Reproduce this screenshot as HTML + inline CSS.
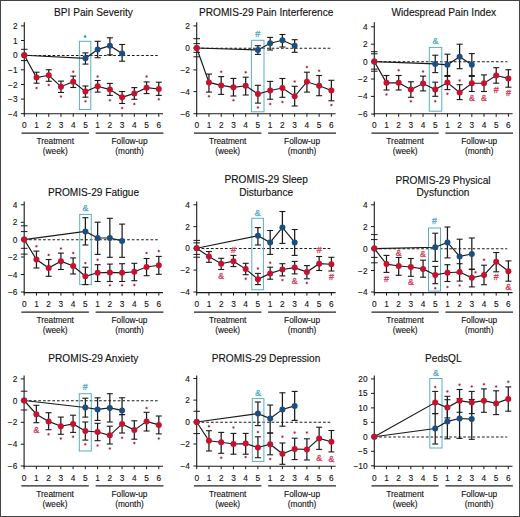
<!DOCTYPE html>
<html><head><meta charset="utf-8"><style>
html,body{margin:0;padding:0;background:#fff;}
.wrap{position:relative;width:520px;height:517px;overflow:hidden;}
svg{position:absolute;left:0;top:0;font-family:"Liberation Sans", sans-serif;}
text{stroke:#111;stroke-width:0.12px;}
.ann{stroke-width:0.3px}
</style></head><body><div class="wrap">
<svg width="520" height="517" viewBox="0 0 520 517">
<rect x="0" y="0" width="520" height="517" fill="#fff"/>
<text x="93.5" y="16.1" text-anchor="middle" font-size="10.15" fill="#111">BPI Pain Severity</text>
<g transform="translate(0,0)">
<line x1="24.5" y1="55.4" x2="157.7" y2="55.4" stroke="#1a1a1a" stroke-width="1.05" stroke-dasharray="2.7 1.97"/>
</g>
<rect x="79.4" y="41.3" width="11.4" height="68.2" fill="none" stroke="#5aaec4" stroke-width="1"/>
<circle cx="85.1" cy="36.6" r="1.25" fill="#3f8ca2"/>
<line x1="24.3" y1="22.3" x2="24.3" y2="114.3" stroke="#1a1a1a" stroke-width="1.1"/>
<line x1="23.8" y1="113.8" x2="163" y2="113.8" stroke="#1a1a1a" stroke-width="1.1"/>
<g transform="translate(0,0)">
<line x1="21" y1="25.9" x2="24.3" y2="25.9" stroke="#1a1a1a" stroke-width="1"/>
<text x="17.5" y="28.9" text-anchor="end" font-size="8.3" fill="#111">2</text>
<line x1="21" y1="40.5" x2="24.3" y2="40.5" stroke="#1a1a1a" stroke-width="1"/>
<text x="17.5" y="43.5" text-anchor="end" font-size="8.3" fill="#111">1</text>
<line x1="21" y1="55.2" x2="24.3" y2="55.2" stroke="#1a1a1a" stroke-width="1"/>
<text x="17.5" y="58.2" text-anchor="end" font-size="8.3" fill="#111">0</text>
<line x1="21" y1="69.8" x2="24.3" y2="69.8" stroke="#1a1a1a" stroke-width="1"/>
<text x="17.5" y="72.8" text-anchor="end" font-size="8.3" fill="#111">−1</text>
<line x1="21" y1="84.5" x2="24.3" y2="84.5" stroke="#1a1a1a" stroke-width="1"/>
<text x="17.5" y="87.5" text-anchor="end" font-size="8.3" fill="#111">−2</text>
<line x1="21" y1="99.1" x2="24.3" y2="99.1" stroke="#1a1a1a" stroke-width="1"/>
<text x="17.5" y="102.1" text-anchor="end" font-size="8.3" fill="#111">−3</text>
<line x1="21" y1="113.7" x2="24.3" y2="113.7" stroke="#1a1a1a" stroke-width="1"/>
<text x="17.5" y="116.7" text-anchor="end" font-size="8.3" fill="#111">−4</text>
</g>
<line x1="24.3" y1="113.8" x2="24.3" y2="116.8" stroke="#1a1a1a" stroke-width="1"/>
<text x="24.3" y="127.8" text-anchor="middle" font-size="8.3" fill="#111">0</text>
<line x1="36.53" y1="113.8" x2="36.53" y2="116.8" stroke="#1a1a1a" stroke-width="1"/>
<text x="36.53" y="127.8" text-anchor="middle" font-size="8.3" fill="#111">1</text>
<line x1="48.75" y1="113.8" x2="48.75" y2="116.8" stroke="#1a1a1a" stroke-width="1"/>
<text x="48.75" y="127.8" text-anchor="middle" font-size="8.3" fill="#111">2</text>
<line x1="60.98" y1="113.8" x2="60.98" y2="116.8" stroke="#1a1a1a" stroke-width="1"/>
<text x="60.98" y="127.8" text-anchor="middle" font-size="8.3" fill="#111">3</text>
<line x1="73.21" y1="113.8" x2="73.21" y2="116.8" stroke="#1a1a1a" stroke-width="1"/>
<text x="73.21" y="127.8" text-anchor="middle" font-size="8.3" fill="#111">4</text>
<line x1="85.44" y1="113.8" x2="85.44" y2="116.8" stroke="#1a1a1a" stroke-width="1"/>
<text x="85.44" y="127.8" text-anchor="middle" font-size="8.3" fill="#111">5</text>
<line x1="97.66" y1="113.8" x2="97.66" y2="116.8" stroke="#1a1a1a" stroke-width="1"/>
<text x="97.66" y="127.8" text-anchor="middle" font-size="8.3" fill="#111">1</text>
<line x1="109.89" y1="113.8" x2="109.89" y2="116.8" stroke="#1a1a1a" stroke-width="1"/>
<text x="109.89" y="127.8" text-anchor="middle" font-size="8.3" fill="#111">2</text>
<line x1="122.12" y1="113.8" x2="122.12" y2="116.8" stroke="#1a1a1a" stroke-width="1"/>
<text x="122.12" y="127.8" text-anchor="middle" font-size="8.3" fill="#111">3</text>
<line x1="134.34" y1="113.8" x2="134.34" y2="116.8" stroke="#1a1a1a" stroke-width="1"/>
<text x="134.34" y="127.8" text-anchor="middle" font-size="8.3" fill="#111">4</text>
<line x1="146.57" y1="113.8" x2="146.57" y2="116.8" stroke="#1a1a1a" stroke-width="1"/>
<text x="146.57" y="127.8" text-anchor="middle" font-size="8.3" fill="#111">5</text>
<line x1="158.8" y1="113.8" x2="158.8" y2="116.8" stroke="#1a1a1a" stroke-width="1"/>
<text x="158.8" y="127.8" text-anchor="middle" font-size="8.3" fill="#111">6</text>
<line x1="21.5" y1="133.1" x2="88.94" y2="133.1" stroke="#222" stroke-width="1.1"/>
<line x1="95.66" y1="133.1" x2="163.4" y2="133.1" stroke="#222" stroke-width="1.1"/>
<text x="55.22" y="144.3" text-anchor="middle" font-size="8.3" fill="#111">Treatment</text>
<text x="55.22" y="154.3" text-anchor="middle" font-size="8.3" fill="#111">(week)</text>
<text x="129.53" y="144.3" text-anchor="middle" font-size="8.3" fill="#111">Follow-up</text>
<text x="129.53" y="154.3" text-anchor="middle" font-size="8.3" fill="#111">(month)</text>
<g transform="translate(0,0)">
<line x1="21" y1="49.3" x2="27.6" y2="49.3" stroke="#1a1a1a" stroke-width="1"/>
<line x1="21" y1="60.6" x2="27.6" y2="60.6" stroke="#1a1a1a" stroke-width="1"/>
<polyline points="24.3,55.2 85.44,58.3 97.66,49.6 109.89,45.7 122.12,53.4" fill="none" stroke="#1a1a1a" stroke-width="1.15"/>
<polyline points="24.3,55.2 36.53,77.6 48.75,75.3 60.98,86.7 73.21,81.7 85.44,91.6 97.66,86.3 109.89,89.6 122.12,97.3 134.34,93.4 146.57,87.7 158.8,89" fill="none" stroke="#1a1a1a" stroke-width="1.15"/>
<line x1="85.44" y1="52.9" x2="85.44" y2="64.1" stroke="#1a1a1a" stroke-width="1.25"/>
<line x1="82.44" y1="52.9" x2="88.44" y2="52.9" stroke="#1a1a1a" stroke-width="1.1"/>
<line x1="82.44" y1="64.1" x2="88.44" y2="64.1" stroke="#1a1a1a" stroke-width="1.1"/>
<line x1="97.66" y1="41.3" x2="97.66" y2="57.7" stroke="#1a1a1a" stroke-width="1.25"/>
<line x1="94.66" y1="41.3" x2="100.66" y2="41.3" stroke="#1a1a1a" stroke-width="1.1"/>
<line x1="94.66" y1="57.7" x2="100.66" y2="57.7" stroke="#1a1a1a" stroke-width="1.1"/>
<line x1="109.89" y1="37.8" x2="109.89" y2="54.8" stroke="#1a1a1a" stroke-width="1.25"/>
<line x1="106.89" y1="37.8" x2="112.89" y2="37.8" stroke="#1a1a1a" stroke-width="1.1"/>
<line x1="106.89" y1="54.8" x2="112.89" y2="54.8" stroke="#1a1a1a" stroke-width="1.1"/>
<line x1="122.12" y1="44.5" x2="122.12" y2="61.2" stroke="#1a1a1a" stroke-width="1.25"/>
<line x1="119.12" y1="44.5" x2="125.12" y2="44.5" stroke="#1a1a1a" stroke-width="1.1"/>
<line x1="119.12" y1="61.2" x2="125.12" y2="61.2" stroke="#1a1a1a" stroke-width="1.1"/>
<line x1="36.53" y1="72.2" x2="36.53" y2="83.2" stroke="#1a1a1a" stroke-width="1.25"/>
<line x1="33.53" y1="72.2" x2="39.53" y2="72.2" stroke="#1a1a1a" stroke-width="1.1"/>
<line x1="33.53" y1="83.2" x2="39.53" y2="83.2" stroke="#1a1a1a" stroke-width="1.1"/>
<line x1="48.75" y1="69.7" x2="48.75" y2="81.3" stroke="#1a1a1a" stroke-width="1.25"/>
<line x1="45.75" y1="69.7" x2="51.75" y2="69.7" stroke="#1a1a1a" stroke-width="1.1"/>
<line x1="45.75" y1="81.3" x2="51.75" y2="81.3" stroke="#1a1a1a" stroke-width="1.1"/>
<line x1="60.98" y1="81.1" x2="60.98" y2="92.5" stroke="#1a1a1a" stroke-width="1.25"/>
<line x1="57.98" y1="81.1" x2="63.98" y2="81.1" stroke="#1a1a1a" stroke-width="1.1"/>
<line x1="57.98" y1="92.5" x2="63.98" y2="92.5" stroke="#1a1a1a" stroke-width="1.1"/>
<line x1="73.21" y1="76.1" x2="73.21" y2="87.5" stroke="#1a1a1a" stroke-width="1.25"/>
<line x1="70.21" y1="76.1" x2="76.21" y2="76.1" stroke="#1a1a1a" stroke-width="1.1"/>
<line x1="70.21" y1="87.5" x2="76.21" y2="87.5" stroke="#1a1a1a" stroke-width="1.1"/>
<line x1="85.44" y1="86" x2="85.44" y2="97.2" stroke="#1a1a1a" stroke-width="1.25"/>
<line x1="82.44" y1="86" x2="88.44" y2="86" stroke="#1a1a1a" stroke-width="1.1"/>
<line x1="82.44" y1="97.2" x2="88.44" y2="97.2" stroke="#1a1a1a" stroke-width="1.1"/>
<line x1="97.66" y1="80.5" x2="97.66" y2="92.1" stroke="#1a1a1a" stroke-width="1.25"/>
<line x1="94.66" y1="80.5" x2="100.66" y2="80.5" stroke="#1a1a1a" stroke-width="1.1"/>
<line x1="94.66" y1="92.1" x2="100.66" y2="92.1" stroke="#1a1a1a" stroke-width="1.1"/>
<line x1="109.89" y1="83.4" x2="109.89" y2="95.4" stroke="#1a1a1a" stroke-width="1.25"/>
<line x1="106.89" y1="83.4" x2="112.89" y2="83.4" stroke="#1a1a1a" stroke-width="1.1"/>
<line x1="106.89" y1="95.4" x2="112.89" y2="95.4" stroke="#1a1a1a" stroke-width="1.1"/>
<line x1="122.12" y1="91.5" x2="122.12" y2="103.5" stroke="#1a1a1a" stroke-width="1.25"/>
<line x1="119.12" y1="91.5" x2="125.12" y2="91.5" stroke="#1a1a1a" stroke-width="1.1"/>
<line x1="119.12" y1="103.5" x2="125.12" y2="103.5" stroke="#1a1a1a" stroke-width="1.1"/>
<line x1="134.34" y1="87.6" x2="134.34" y2="99.3" stroke="#1a1a1a" stroke-width="1.25"/>
<line x1="131.34" y1="87.6" x2="137.34" y2="87.6" stroke="#1a1a1a" stroke-width="1.1"/>
<line x1="131.34" y1="99.3" x2="137.34" y2="99.3" stroke="#1a1a1a" stroke-width="1.1"/>
<line x1="146.57" y1="81.9" x2="146.57" y2="93.6" stroke="#1a1a1a" stroke-width="1.25"/>
<line x1="143.57" y1="81.9" x2="149.57" y2="81.9" stroke="#1a1a1a" stroke-width="1.1"/>
<line x1="143.57" y1="93.6" x2="149.57" y2="93.6" stroke="#1a1a1a" stroke-width="1.1"/>
<line x1="158.8" y1="82.2" x2="158.8" y2="95.4" stroke="#1a1a1a" stroke-width="1.25"/>
<line x1="155.8" y1="82.2" x2="161.8" y2="82.2" stroke="#1a1a1a" stroke-width="1.1"/>
<line x1="155.8" y1="95.4" x2="161.8" y2="95.4" stroke="#1a1a1a" stroke-width="1.1"/>
<circle cx="24.3" cy="55.2" r="3.0" fill="#1a4f82"/>
<circle cx="85.44" cy="58.3" r="3.0" fill="#1a4f82"/>
<circle cx="97.66" cy="49.6" r="3.0" fill="#1a4f82"/>
<circle cx="109.89" cy="45.7" r="3.0" fill="#1a4f82"/>
<circle cx="122.12" cy="53.4" r="3.0" fill="#1a4f82"/>
<circle cx="24.3" cy="55.2" r="3.0" fill="#c8102f"/>
<circle cx="36.53" cy="77.6" r="3.0" fill="#c8102f"/>
<circle cx="48.75" cy="75.3" r="3.0" fill="#c8102f"/>
<circle cx="60.98" cy="86.7" r="3.0" fill="#c8102f"/>
<circle cx="73.21" cy="81.7" r="3.0" fill="#c8102f"/>
<circle cx="85.44" cy="91.6" r="3.0" fill="#c8102f"/>
<circle cx="97.66" cy="86.3" r="3.0" fill="#c8102f"/>
<circle cx="109.89" cy="89.6" r="3.0" fill="#c8102f"/>
<circle cx="122.12" cy="97.3" r="3.0" fill="#c8102f"/>
<circle cx="134.34" cy="93.4" r="3.0" fill="#c8102f"/>
<circle cx="146.57" cy="87.7" r="3.0" fill="#c8102f"/>
<circle cx="158.8" cy="89" r="3.0" fill="#c8102f"/>
<circle cx="36.53" cy="88" r="1.7" fill="#f3c6d0" opacity="0.8"/>
<circle cx="36.53" cy="88" r="1.0" fill="#9a2a48"/>
<circle cx="48.75" cy="85" r="1.7" fill="#f3c6d0" opacity="0.8"/>
<circle cx="48.75" cy="85" r="1.0" fill="#9a2a48"/>
<circle cx="60.98" cy="96.4" r="1.7" fill="#f3c6d0" opacity="0.8"/>
<circle cx="60.98" cy="96.4" r="1.0" fill="#9a2a48"/>
<circle cx="73.21" cy="71.8" r="1.7" fill="#f3c6d0" opacity="0.8"/>
<circle cx="73.21" cy="71.8" r="1.0" fill="#9a2a48"/>
<circle cx="85.44" cy="101.2" r="1.7" fill="#f3c6d0" opacity="0.8"/>
<circle cx="85.44" cy="101.2" r="1.0" fill="#9a2a48"/>
<circle cx="97.66" cy="76.4" r="1.7" fill="#f3c6d0" opacity="0.8"/>
<circle cx="97.66" cy="76.4" r="1.0" fill="#9a2a48"/>
<circle cx="109.89" cy="100.2" r="1.7" fill="#f3c6d0" opacity="0.8"/>
<circle cx="109.89" cy="100.2" r="1.0" fill="#9a2a48"/>
<circle cx="122.12" cy="108" r="1.7" fill="#f3c6d0" opacity="0.8"/>
<circle cx="122.12" cy="108" r="1.0" fill="#9a2a48"/>
<circle cx="134.34" cy="104" r="1.7" fill="#f3c6d0" opacity="0.8"/>
<circle cx="134.34" cy="104" r="1.0" fill="#9a2a48"/>
<circle cx="146.57" cy="76.4" r="1.7" fill="#f3c6d0" opacity="0.8"/>
<circle cx="146.57" cy="76.4" r="1.0" fill="#9a2a48"/>
<circle cx="158.8" cy="99.3" r="1.7" fill="#f3c6d0" opacity="0.8"/>
<circle cx="158.8" cy="99.3" r="1.0" fill="#9a2a48"/>
</g>
<text x="266.2" y="16.1" text-anchor="middle" font-size="10.15" fill="#111">PROMIS-29 Pain Interference</text>
<g transform="translate(0,0)">
<line x1="196.9" y1="48.2" x2="330.29" y2="48.2" stroke="#1a1a1a" stroke-width="1.05" stroke-dasharray="2.7 1.97"/>
</g>
<rect x="251.4" y="40.3" width="12.6" height="71.5" fill="none" stroke="#5aaec4" stroke-width="1"/>
<text x="257.7" y="36.5" text-anchor="middle" font-size="8.8" class="ann" fill="#5aaec4" style="stroke:#5aaec4">#</text>
<line x1="196.7" y1="22.3" x2="196.7" y2="114.3" stroke="#1a1a1a" stroke-width="1.1"/>
<line x1="196.2" y1="113.8" x2="335.59" y2="113.8" stroke="#1a1a1a" stroke-width="1.1"/>
<g transform="translate(0,0)">
<line x1="193.4" y1="25.9" x2="196.7" y2="25.9" stroke="#1a1a1a" stroke-width="1"/>
<text x="189.9" y="28.9" text-anchor="end" font-size="8.3" fill="#111">2</text>
<line x1="193.4" y1="48" x2="196.7" y2="48" stroke="#1a1a1a" stroke-width="1"/>
<text x="189.9" y="51" text-anchor="end" font-size="8.3" fill="#111">0</text>
<line x1="193.4" y1="69.9" x2="196.7" y2="69.9" stroke="#1a1a1a" stroke-width="1"/>
<text x="189.9" y="72.9" text-anchor="end" font-size="8.3" fill="#111">−2</text>
<line x1="193.4" y1="91.6" x2="196.7" y2="91.6" stroke="#1a1a1a" stroke-width="1"/>
<text x="189.9" y="94.6" text-anchor="end" font-size="8.3" fill="#111">−4</text>
<line x1="193.4" y1="113.7" x2="196.7" y2="113.7" stroke="#1a1a1a" stroke-width="1"/>
<text x="189.9" y="116.7" text-anchor="end" font-size="8.3" fill="#111">−6</text>
</g>
<line x1="196.7" y1="113.8" x2="196.7" y2="116.8" stroke="#1a1a1a" stroke-width="1"/>
<text x="196.7" y="127.8" text-anchor="middle" font-size="8.3" fill="#111">0</text>
<line x1="208.94" y1="113.8" x2="208.94" y2="116.8" stroke="#1a1a1a" stroke-width="1"/>
<text x="208.94" y="127.8" text-anchor="middle" font-size="8.3" fill="#111">1</text>
<line x1="221.19" y1="113.8" x2="221.19" y2="116.8" stroke="#1a1a1a" stroke-width="1"/>
<text x="221.19" y="127.8" text-anchor="middle" font-size="8.3" fill="#111">2</text>
<line x1="233.44" y1="113.8" x2="233.44" y2="116.8" stroke="#1a1a1a" stroke-width="1"/>
<text x="233.44" y="127.8" text-anchor="middle" font-size="8.3" fill="#111">3</text>
<line x1="245.68" y1="113.8" x2="245.68" y2="116.8" stroke="#1a1a1a" stroke-width="1"/>
<text x="245.68" y="127.8" text-anchor="middle" font-size="8.3" fill="#111">4</text>
<line x1="257.92" y1="113.8" x2="257.92" y2="116.8" stroke="#1a1a1a" stroke-width="1"/>
<text x="257.92" y="127.8" text-anchor="middle" font-size="8.3" fill="#111">5</text>
<line x1="270.17" y1="113.8" x2="270.17" y2="116.8" stroke="#1a1a1a" stroke-width="1"/>
<text x="270.17" y="127.8" text-anchor="middle" font-size="8.3" fill="#111">1</text>
<line x1="282.41" y1="113.8" x2="282.41" y2="116.8" stroke="#1a1a1a" stroke-width="1"/>
<text x="282.41" y="127.8" text-anchor="middle" font-size="8.3" fill="#111">2</text>
<line x1="294.66" y1="113.8" x2="294.66" y2="116.8" stroke="#1a1a1a" stroke-width="1"/>
<text x="294.66" y="127.8" text-anchor="middle" font-size="8.3" fill="#111">3</text>
<line x1="306.9" y1="113.8" x2="306.9" y2="116.8" stroke="#1a1a1a" stroke-width="1"/>
<text x="306.9" y="127.8" text-anchor="middle" font-size="8.3" fill="#111">4</text>
<line x1="319.15" y1="113.8" x2="319.15" y2="116.8" stroke="#1a1a1a" stroke-width="1"/>
<text x="319.15" y="127.8" text-anchor="middle" font-size="8.3" fill="#111">5</text>
<line x1="331.39" y1="113.8" x2="331.39" y2="116.8" stroke="#1a1a1a" stroke-width="1"/>
<text x="331.39" y="127.8" text-anchor="middle" font-size="8.3" fill="#111">6</text>
<line x1="193.9" y1="133.1" x2="261.42" y2="133.1" stroke="#222" stroke-width="1.1"/>
<line x1="268.17" y1="133.1" x2="336" y2="133.1" stroke="#222" stroke-width="1.1"/>
<text x="227.66" y="144.3" text-anchor="middle" font-size="8.3" fill="#111">Treatment</text>
<text x="227.66" y="154.3" text-anchor="middle" font-size="8.3" fill="#111">(week)</text>
<text x="302.08" y="144.3" text-anchor="middle" font-size="8.3" fill="#111">Follow-up</text>
<text x="302.08" y="154.3" text-anchor="middle" font-size="8.3" fill="#111">(month)</text>
<g transform="translate(0,0)">
<line x1="193.4" y1="38.7" x2="200" y2="38.7" stroke="#1a1a1a" stroke-width="1"/>
<line x1="193.4" y1="43.6" x2="200" y2="43.6" stroke="#1a1a1a" stroke-width="1"/>
<line x1="193.4" y1="52.3" x2="200" y2="52.3" stroke="#1a1a1a" stroke-width="1"/>
<line x1="193.4" y1="56.8" x2="200" y2="56.8" stroke="#1a1a1a" stroke-width="1"/>
<polyline points="196.7,48 257.92,50 270.17,43.2 282.41,40.3 294.66,45.7" fill="none" stroke="#1a1a1a" stroke-width="1.15"/>
<polyline points="196.7,48 208.94,82.4 221.19,85.4 233.44,87.3 245.68,85.8 257.92,94.1 270.17,90.5 282.41,88 294.66,96.3 306.9,81.8 319.15,85.7 331.39,90.5" fill="none" stroke="#1a1a1a" stroke-width="1.15"/>
<line x1="257.92" y1="45.7" x2="257.92" y2="54.4" stroke="#1a1a1a" stroke-width="1.25"/>
<line x1="254.92" y1="45.7" x2="260.92" y2="45.7" stroke="#1a1a1a" stroke-width="1.1"/>
<line x1="254.92" y1="54.4" x2="260.92" y2="54.4" stroke="#1a1a1a" stroke-width="1.1"/>
<line x1="270.17" y1="37.4" x2="270.17" y2="50" stroke="#1a1a1a" stroke-width="1.25"/>
<line x1="267.17" y1="37.4" x2="273.17" y2="37.4" stroke="#1a1a1a" stroke-width="1.1"/>
<line x1="267.17" y1="50" x2="273.17" y2="50" stroke="#1a1a1a" stroke-width="1.1"/>
<line x1="282.41" y1="34.5" x2="282.41" y2="47" stroke="#1a1a1a" stroke-width="1.25"/>
<line x1="279.41" y1="34.5" x2="285.41" y2="34.5" stroke="#1a1a1a" stroke-width="1.1"/>
<line x1="279.41" y1="47" x2="285.41" y2="47" stroke="#1a1a1a" stroke-width="1.1"/>
<line x1="294.66" y1="39.7" x2="294.66" y2="52.3" stroke="#1a1a1a" stroke-width="1.25"/>
<line x1="291.66" y1="39.7" x2="297.66" y2="39.7" stroke="#1a1a1a" stroke-width="1.1"/>
<line x1="291.66" y1="52.3" x2="297.66" y2="52.3" stroke="#1a1a1a" stroke-width="1.1"/>
<line x1="208.94" y1="74.1" x2="208.94" y2="92.1" stroke="#1a1a1a" stroke-width="1.25"/>
<line x1="205.94" y1="74.1" x2="211.94" y2="74.1" stroke="#1a1a1a" stroke-width="1.1"/>
<line x1="205.94" y1="92.1" x2="211.94" y2="92.1" stroke="#1a1a1a" stroke-width="1.1"/>
<line x1="221.19" y1="76.6" x2="221.19" y2="94.4" stroke="#1a1a1a" stroke-width="1.25"/>
<line x1="218.19" y1="76.6" x2="224.19" y2="76.6" stroke="#1a1a1a" stroke-width="1.1"/>
<line x1="218.19" y1="94.4" x2="224.19" y2="94.4" stroke="#1a1a1a" stroke-width="1.1"/>
<line x1="233.44" y1="78.4" x2="233.44" y2="96" stroke="#1a1a1a" stroke-width="1.25"/>
<line x1="230.44" y1="78.4" x2="236.44" y2="78.4" stroke="#1a1a1a" stroke-width="1.1"/>
<line x1="230.44" y1="96" x2="236.44" y2="96" stroke="#1a1a1a" stroke-width="1.1"/>
<line x1="245.68" y1="77.2" x2="245.68" y2="95" stroke="#1a1a1a" stroke-width="1.25"/>
<line x1="242.68" y1="77.2" x2="248.68" y2="77.2" stroke="#1a1a1a" stroke-width="1.1"/>
<line x1="242.68" y1="95" x2="248.68" y2="95" stroke="#1a1a1a" stroke-width="1.1"/>
<line x1="257.92" y1="85.3" x2="257.92" y2="103.1" stroke="#1a1a1a" stroke-width="1.25"/>
<line x1="254.92" y1="85.3" x2="260.92" y2="85.3" stroke="#1a1a1a" stroke-width="1.1"/>
<line x1="254.92" y1="103.1" x2="260.92" y2="103.1" stroke="#1a1a1a" stroke-width="1.1"/>
<line x1="270.17" y1="81.4" x2="270.17" y2="99.2" stroke="#1a1a1a" stroke-width="1.25"/>
<line x1="267.17" y1="81.4" x2="273.17" y2="81.4" stroke="#1a1a1a" stroke-width="1.1"/>
<line x1="267.17" y1="99.2" x2="273.17" y2="99.2" stroke="#1a1a1a" stroke-width="1.1"/>
<line x1="282.41" y1="78.5" x2="282.41" y2="97.3" stroke="#1a1a1a" stroke-width="1.25"/>
<line x1="279.41" y1="78.5" x2="285.41" y2="78.5" stroke="#1a1a1a" stroke-width="1.1"/>
<line x1="279.41" y1="97.3" x2="285.41" y2="97.3" stroke="#1a1a1a" stroke-width="1.1"/>
<line x1="294.66" y1="86.3" x2="294.66" y2="106" stroke="#1a1a1a" stroke-width="1.25"/>
<line x1="291.66" y1="86.3" x2="297.66" y2="86.3" stroke="#1a1a1a" stroke-width="1.1"/>
<line x1="291.66" y1="106" x2="297.66" y2="106" stroke="#1a1a1a" stroke-width="1.1"/>
<line x1="306.9" y1="72.2" x2="306.9" y2="92.1" stroke="#1a1a1a" stroke-width="1.25"/>
<line x1="303.9" y1="72.2" x2="309.9" y2="72.2" stroke="#1a1a1a" stroke-width="1.1"/>
<line x1="303.9" y1="92.1" x2="309.9" y2="92.1" stroke="#1a1a1a" stroke-width="1.1"/>
<line x1="319.15" y1="75.5" x2="319.15" y2="95.7" stroke="#1a1a1a" stroke-width="1.25"/>
<line x1="316.15" y1="75.5" x2="322.15" y2="75.5" stroke="#1a1a1a" stroke-width="1.1"/>
<line x1="316.15" y1="95.7" x2="322.15" y2="95.7" stroke="#1a1a1a" stroke-width="1.1"/>
<line x1="331.39" y1="80.3" x2="331.39" y2="100.8" stroke="#1a1a1a" stroke-width="1.25"/>
<line x1="328.39" y1="80.3" x2="334.39" y2="80.3" stroke="#1a1a1a" stroke-width="1.1"/>
<line x1="328.39" y1="100.8" x2="334.39" y2="100.8" stroke="#1a1a1a" stroke-width="1.1"/>
<circle cx="196.7" cy="48" r="3.0" fill="#1a4f82"/>
<circle cx="257.92" cy="50" r="3.0" fill="#1a4f82"/>
<circle cx="270.17" cy="43.2" r="3.0" fill="#1a4f82"/>
<circle cx="282.41" cy="40.3" r="3.0" fill="#1a4f82"/>
<circle cx="294.66" cy="45.7" r="3.0" fill="#1a4f82"/>
<circle cx="196.7" cy="48" r="3.0" fill="#c8102f"/>
<circle cx="208.94" cy="82.4" r="3.0" fill="#c8102f"/>
<circle cx="221.19" cy="85.4" r="3.0" fill="#c8102f"/>
<circle cx="233.44" cy="87.3" r="3.0" fill="#c8102f"/>
<circle cx="245.68" cy="85.8" r="3.0" fill="#c8102f"/>
<circle cx="257.92" cy="94.1" r="3.0" fill="#c8102f"/>
<circle cx="270.17" cy="90.5" r="3.0" fill="#c8102f"/>
<circle cx="282.41" cy="88" r="3.0" fill="#c8102f"/>
<circle cx="294.66" cy="96.3" r="3.0" fill="#c8102f"/>
<circle cx="306.9" cy="81.8" r="3.0" fill="#c8102f"/>
<circle cx="319.15" cy="85.7" r="3.0" fill="#c8102f"/>
<circle cx="331.39" cy="90.5" r="3.0" fill="#c8102f"/>
<circle cx="208.94" cy="96.3" r="1.7" fill="#f3c6d0" opacity="0.8"/>
<circle cx="208.94" cy="96.3" r="1.0" fill="#9a2a48"/>
<circle cx="221.19" cy="71.8" r="1.7" fill="#f3c6d0" opacity="0.8"/>
<circle cx="221.19" cy="71.8" r="1.0" fill="#9a2a48"/>
<circle cx="233.44" cy="100.2" r="1.7" fill="#f3c6d0" opacity="0.8"/>
<circle cx="233.44" cy="100.2" r="1.0" fill="#9a2a48"/>
<circle cx="245.68" cy="72.2" r="1.7" fill="#f3c6d0" opacity="0.8"/>
<circle cx="245.68" cy="72.2" r="1.0" fill="#9a2a48"/>
<circle cx="257.92" cy="107.4" r="1.7" fill="#f3c6d0" opacity="0.8"/>
<circle cx="257.92" cy="107.4" r="1.0" fill="#9a2a48"/>
<circle cx="270.17" cy="104" r="1.7" fill="#f3c6d0" opacity="0.8"/>
<circle cx="270.17" cy="104" r="1.0" fill="#9a2a48"/>
<circle cx="282.41" cy="102" r="1.7" fill="#f3c6d0" opacity="0.8"/>
<circle cx="282.41" cy="102" r="1.0" fill="#9a2a48"/>
<circle cx="294.66" cy="81.4" r="1.7" fill="#f3c6d0" opacity="0.8"/>
<circle cx="294.66" cy="81.4" r="1.0" fill="#9a2a48"/>
<circle cx="306.9" cy="67" r="1.7" fill="#f3c6d0" opacity="0.8"/>
<circle cx="306.9" cy="67" r="1.0" fill="#9a2a48"/>
<circle cx="319.15" cy="70.8" r="1.7" fill="#f3c6d0" opacity="0.8"/>
<circle cx="319.15" cy="70.8" r="1.0" fill="#9a2a48"/>
<circle cx="331.39" cy="105" r="1.7" fill="#f3c6d0" opacity="0.8"/>
<circle cx="331.39" cy="105" r="1.0" fill="#9a2a48"/>
</g>
<text x="443.8" y="16.1" text-anchor="middle" font-size="10.15" fill="#111">Widespread Pain Index</text>
<g transform="translate(0,0.4)">
<line x1="374.5" y1="61.4" x2="507.29" y2="61.4" stroke="#1a1a1a" stroke-width="1.05" stroke-dasharray="2.7 1.97"/>
</g>
<rect x="429.3" y="47.4" width="12.5" height="63.8" fill="none" stroke="#5aaec4" stroke-width="1"/>
<text x="435.55" y="43.9" text-anchor="middle" font-size="8.8" class="ann" fill="#5aaec4" style="stroke:#5aaec4">&amp;</text>
<line x1="374.3" y1="22.3" x2="374.3" y2="114.3" stroke="#1a1a1a" stroke-width="1.1"/>
<line x1="373.8" y1="113.8" x2="512.59" y2="113.8" stroke="#1a1a1a" stroke-width="1.1"/>
<g transform="translate(0,0.4)">
<line x1="371" y1="26.4" x2="374.3" y2="26.4" stroke="#1a1a1a" stroke-width="1"/>
<text x="367.5" y="29.4" text-anchor="end" font-size="8.3" fill="#111">4</text>
<line x1="371" y1="43.8" x2="374.3" y2="43.8" stroke="#1a1a1a" stroke-width="1"/>
<text x="367.5" y="46.8" text-anchor="end" font-size="8.3" fill="#111">2</text>
<line x1="371" y1="61.2" x2="374.3" y2="61.2" stroke="#1a1a1a" stroke-width="1"/>
<text x="367.5" y="64.2" text-anchor="end" font-size="8.3" fill="#111">0</text>
<line x1="371" y1="78.6" x2="374.3" y2="78.6" stroke="#1a1a1a" stroke-width="1"/>
<text x="367.5" y="81.6" text-anchor="end" font-size="8.3" fill="#111">−2</text>
<line x1="371" y1="96" x2="374.3" y2="96" stroke="#1a1a1a" stroke-width="1"/>
<text x="367.5" y="99" text-anchor="end" font-size="8.3" fill="#111">−4</text>
<line x1="371" y1="113.7" x2="374.3" y2="113.7" stroke="#1a1a1a" stroke-width="1"/>
<text x="367.5" y="116.7" text-anchor="end" font-size="8.3" fill="#111">−6</text>
</g>
<line x1="374.3" y1="113.8" x2="374.3" y2="116.8" stroke="#1a1a1a" stroke-width="1"/>
<text x="374.3" y="127.8" text-anchor="middle" font-size="8.3" fill="#111">0</text>
<line x1="386.49" y1="113.8" x2="386.49" y2="116.8" stroke="#1a1a1a" stroke-width="1"/>
<text x="386.49" y="127.8" text-anchor="middle" font-size="8.3" fill="#111">1</text>
<line x1="398.68" y1="113.8" x2="398.68" y2="116.8" stroke="#1a1a1a" stroke-width="1"/>
<text x="398.68" y="127.8" text-anchor="middle" font-size="8.3" fill="#111">2</text>
<line x1="410.87" y1="113.8" x2="410.87" y2="116.8" stroke="#1a1a1a" stroke-width="1"/>
<text x="410.87" y="127.8" text-anchor="middle" font-size="8.3" fill="#111">3</text>
<line x1="423.06" y1="113.8" x2="423.06" y2="116.8" stroke="#1a1a1a" stroke-width="1"/>
<text x="423.06" y="127.8" text-anchor="middle" font-size="8.3" fill="#111">4</text>
<line x1="435.25" y1="113.8" x2="435.25" y2="116.8" stroke="#1a1a1a" stroke-width="1"/>
<text x="435.25" y="127.8" text-anchor="middle" font-size="8.3" fill="#111">5</text>
<line x1="447.44" y1="113.8" x2="447.44" y2="116.8" stroke="#1a1a1a" stroke-width="1"/>
<text x="447.44" y="127.8" text-anchor="middle" font-size="8.3" fill="#111">1</text>
<line x1="459.63" y1="113.8" x2="459.63" y2="116.8" stroke="#1a1a1a" stroke-width="1"/>
<text x="459.63" y="127.8" text-anchor="middle" font-size="8.3" fill="#111">2</text>
<line x1="471.82" y1="113.8" x2="471.82" y2="116.8" stroke="#1a1a1a" stroke-width="1"/>
<text x="471.82" y="127.8" text-anchor="middle" font-size="8.3" fill="#111">3</text>
<line x1="484.01" y1="113.8" x2="484.01" y2="116.8" stroke="#1a1a1a" stroke-width="1"/>
<text x="484.01" y="127.8" text-anchor="middle" font-size="8.3" fill="#111">4</text>
<line x1="496.2" y1="113.8" x2="496.2" y2="116.8" stroke="#1a1a1a" stroke-width="1"/>
<text x="496.2" y="127.8" text-anchor="middle" font-size="8.3" fill="#111">5</text>
<line x1="508.39" y1="113.8" x2="508.39" y2="116.8" stroke="#1a1a1a" stroke-width="1"/>
<text x="508.39" y="127.8" text-anchor="middle" font-size="8.3" fill="#111">6</text>
<line x1="371.5" y1="133.1" x2="438.75" y2="133.1" stroke="#222" stroke-width="1.1"/>
<line x1="445.44" y1="133.1" x2="512.99" y2="133.1" stroke="#222" stroke-width="1.1"/>
<text x="405.12" y="144.3" text-anchor="middle" font-size="8.3" fill="#111">Treatment</text>
<text x="405.12" y="154.3" text-anchor="middle" font-size="8.3" fill="#111">(week)</text>
<text x="479.21" y="144.3" text-anchor="middle" font-size="8.3" fill="#111">Follow-up</text>
<text x="479.21" y="154.3" text-anchor="middle" font-size="8.3" fill="#111">(month)</text>
<g transform="translate(0,0.4)">
<line x1="371" y1="51.3" x2="377.6" y2="51.3" stroke="#1a1a1a" stroke-width="1"/>
<line x1="371" y1="53.4" x2="377.6" y2="53.4" stroke="#1a1a1a" stroke-width="1"/>
<line x1="371" y1="68.7" x2="377.6" y2="68.7" stroke="#1a1a1a" stroke-width="1"/>
<line x1="371" y1="70.8" x2="377.6" y2="70.8" stroke="#1a1a1a" stroke-width="1"/>
<polyline points="374.3,61.2 435.25,63.5 447.44,64.4 459.63,56.3 471.82,64.4" fill="none" stroke="#1a1a1a" stroke-width="1.15"/>
<polyline points="374.3,61.2 386.49,82.4 398.68,82.4 410.87,89.2 423.06,83.2 435.25,89.2 447.44,82.2 459.63,92.1 471.82,82.8 484.01,82.8 496.2,75.1 508.39,78" fill="none" stroke="#1a1a1a" stroke-width="1.15"/>
<line x1="435.25" y1="54.8" x2="435.25" y2="72.2" stroke="#1a1a1a" stroke-width="1.25"/>
<line x1="432.25" y1="54.8" x2="438.25" y2="54.8" stroke="#1a1a1a" stroke-width="1.1"/>
<line x1="432.25" y1="72.2" x2="438.25" y2="72.2" stroke="#1a1a1a" stroke-width="1.1"/>
<line x1="447.44" y1="53.8" x2="447.44" y2="76" stroke="#1a1a1a" stroke-width="1.25"/>
<line x1="444.44" y1="53.8" x2="450.44" y2="53.8" stroke="#1a1a1a" stroke-width="1.1"/>
<line x1="444.44" y1="76" x2="450.44" y2="76" stroke="#1a1a1a" stroke-width="1.1"/>
<line x1="459.63" y1="43.8" x2="459.63" y2="68.3" stroke="#1a1a1a" stroke-width="1.25"/>
<line x1="456.63" y1="43.8" x2="462.63" y2="43.8" stroke="#1a1a1a" stroke-width="1.1"/>
<line x1="456.63" y1="68.3" x2="462.63" y2="68.3" stroke="#1a1a1a" stroke-width="1.1"/>
<line x1="471.82" y1="53.2" x2="471.82" y2="76" stroke="#1a1a1a" stroke-width="1.25"/>
<line x1="468.82" y1="53.2" x2="474.82" y2="53.2" stroke="#1a1a1a" stroke-width="1.1"/>
<line x1="468.82" y1="76" x2="474.82" y2="76" stroke="#1a1a1a" stroke-width="1.1"/>
<line x1="386.49" y1="75.1" x2="386.49" y2="89.6" stroke="#1a1a1a" stroke-width="1.25"/>
<line x1="383.49" y1="75.1" x2="389.49" y2="75.1" stroke="#1a1a1a" stroke-width="1.1"/>
<line x1="383.49" y1="89.6" x2="389.49" y2="89.6" stroke="#1a1a1a" stroke-width="1.1"/>
<line x1="398.68" y1="75.1" x2="398.68" y2="89.6" stroke="#1a1a1a" stroke-width="1.25"/>
<line x1="395.68" y1="75.1" x2="401.68" y2="75.1" stroke="#1a1a1a" stroke-width="1.1"/>
<line x1="395.68" y1="89.6" x2="401.68" y2="89.6" stroke="#1a1a1a" stroke-width="1.1"/>
<line x1="410.87" y1="81.4" x2="410.87" y2="96.9" stroke="#1a1a1a" stroke-width="1.25"/>
<line x1="407.87" y1="81.4" x2="413.87" y2="81.4" stroke="#1a1a1a" stroke-width="1.1"/>
<line x1="407.87" y1="96.9" x2="413.87" y2="96.9" stroke="#1a1a1a" stroke-width="1.1"/>
<line x1="423.06" y1="75.7" x2="423.06" y2="90.5" stroke="#1a1a1a" stroke-width="1.25"/>
<line x1="420.06" y1="75.7" x2="426.06" y2="75.7" stroke="#1a1a1a" stroke-width="1.1"/>
<line x1="420.06" y1="90.5" x2="426.06" y2="90.5" stroke="#1a1a1a" stroke-width="1.1"/>
<line x1="435.25" y1="81.8" x2="435.25" y2="95.9" stroke="#1a1a1a" stroke-width="1.25"/>
<line x1="432.25" y1="81.8" x2="438.25" y2="81.8" stroke="#1a1a1a" stroke-width="1.1"/>
<line x1="432.25" y1="95.9" x2="438.25" y2="95.9" stroke="#1a1a1a" stroke-width="1.1"/>
<line x1="447.44" y1="75.1" x2="447.44" y2="89.2" stroke="#1a1a1a" stroke-width="1.25"/>
<line x1="444.44" y1="75.1" x2="450.44" y2="75.1" stroke="#1a1a1a" stroke-width="1.1"/>
<line x1="444.44" y1="89.2" x2="450.44" y2="89.2" stroke="#1a1a1a" stroke-width="1.1"/>
<line x1="459.63" y1="84.3" x2="459.63" y2="99.2" stroke="#1a1a1a" stroke-width="1.25"/>
<line x1="456.63" y1="84.3" x2="462.63" y2="84.3" stroke="#1a1a1a" stroke-width="1.1"/>
<line x1="456.63" y1="99.2" x2="462.63" y2="99.2" stroke="#1a1a1a" stroke-width="1.1"/>
<line x1="471.82" y1="75.1" x2="471.82" y2="91.1" stroke="#1a1a1a" stroke-width="1.25"/>
<line x1="468.82" y1="75.1" x2="474.82" y2="75.1" stroke="#1a1a1a" stroke-width="1.1"/>
<line x1="468.82" y1="91.1" x2="474.82" y2="91.1" stroke="#1a1a1a" stroke-width="1.1"/>
<line x1="484.01" y1="74.5" x2="484.01" y2="91.1" stroke="#1a1a1a" stroke-width="1.25"/>
<line x1="481.01" y1="74.5" x2="487.01" y2="74.5" stroke="#1a1a1a" stroke-width="1.1"/>
<line x1="481.01" y1="91.1" x2="487.01" y2="91.1" stroke="#1a1a1a" stroke-width="1.1"/>
<line x1="496.2" y1="67.3" x2="496.2" y2="82.8" stroke="#1a1a1a" stroke-width="1.25"/>
<line x1="493.2" y1="67.3" x2="499.2" y2="67.3" stroke="#1a1a1a" stroke-width="1.1"/>
<line x1="493.2" y1="82.8" x2="499.2" y2="82.8" stroke="#1a1a1a" stroke-width="1.1"/>
<line x1="508.39" y1="69.3" x2="508.39" y2="86.8" stroke="#1a1a1a" stroke-width="1.25"/>
<line x1="505.39" y1="69.3" x2="511.39" y2="69.3" stroke="#1a1a1a" stroke-width="1.1"/>
<line x1="505.39" y1="86.8" x2="511.39" y2="86.8" stroke="#1a1a1a" stroke-width="1.1"/>
<circle cx="374.3" cy="61.2" r="3.0" fill="#1a4f82"/>
<circle cx="435.25" cy="63.5" r="3.0" fill="#1a4f82"/>
<circle cx="447.44" cy="64.4" r="3.0" fill="#1a4f82"/>
<circle cx="459.63" cy="56.3" r="3.0" fill="#1a4f82"/>
<circle cx="471.82" cy="64.4" r="3.0" fill="#1a4f82"/>
<circle cx="374.3" cy="61.2" r="3.0" fill="#c8102f"/>
<circle cx="386.49" cy="82.4" r="3.0" fill="#c8102f"/>
<circle cx="398.68" cy="82.4" r="3.0" fill="#c8102f"/>
<circle cx="410.87" cy="89.2" r="3.0" fill="#c8102f"/>
<circle cx="423.06" cy="83.2" r="3.0" fill="#c8102f"/>
<circle cx="435.25" cy="89.2" r="3.0" fill="#c8102f"/>
<circle cx="447.44" cy="82.2" r="3.0" fill="#c8102f"/>
<circle cx="459.63" cy="92.1" r="3.0" fill="#c8102f"/>
<circle cx="471.82" cy="82.8" r="3.0" fill="#c8102f"/>
<circle cx="484.01" cy="82.8" r="3.0" fill="#c8102f"/>
<circle cx="496.2" cy="75.1" r="3.0" fill="#c8102f"/>
<circle cx="508.39" cy="78" r="3.0" fill="#c8102f"/>
<circle cx="386.49" cy="94" r="1.7" fill="#f3c6d0" opacity="0.8"/>
<circle cx="386.49" cy="94" r="1.0" fill="#9a2a48"/>
<circle cx="398.68" cy="69.9" r="1.7" fill="#f3c6d0" opacity="0.8"/>
<circle cx="398.68" cy="69.9" r="1.0" fill="#9a2a48"/>
<circle cx="410.87" cy="100.8" r="1.7" fill="#f3c6d0" opacity="0.8"/>
<circle cx="410.87" cy="100.8" r="1.0" fill="#9a2a48"/>
<circle cx="423.06" cy="71.2" r="1.7" fill="#f3c6d0" opacity="0.8"/>
<circle cx="423.06" cy="71.2" r="1.0" fill="#9a2a48"/>
<circle cx="435.25" cy="100.8" r="1.7" fill="#f3c6d0" opacity="0.8"/>
<circle cx="435.25" cy="100.8" r="1.0" fill="#9a2a48"/>
<circle cx="447.44" cy="93.4" r="1.7" fill="#f3c6d0" opacity="0.8"/>
<circle cx="447.44" cy="93.4" r="1.0" fill="#9a2a48"/>
<circle cx="459.63" cy="80" r="1.7" fill="#f3c6d0" opacity="0.8"/>
<circle cx="459.63" cy="80" r="1.0" fill="#9a2a48"/>
<text x="471.82" y="100.3" text-anchor="middle" font-size="8.8" class="ann" fill="#d2405f" style="stroke:#d2405f">&amp;</text>
<text x="484.01" y="100.3" text-anchor="middle" font-size="8.8" class="ann" fill="#d2405f" style="stroke:#d2405f">&amp;</text>
<text x="496.2" y="92.6" text-anchor="middle" font-size="8.8" class="ann" fill="#d2405f" style="stroke:#d2405f">#</text>
<text x="508.39" y="95.6" text-anchor="middle" font-size="8.8" class="ann" fill="#d2405f" style="stroke:#d2405f">#</text>
</g>
<text x="93.5" y="195.9" text-anchor="middle" font-size="10.15" fill="#111">PROMIS-29 Fatigue</text>
<g transform="translate(0,0)">
<line x1="24.4" y1="239.8" x2="157.7" y2="239.8" stroke="#1a1a1a" stroke-width="1.05" stroke-dasharray="2.7 1.97"/>
</g>
<rect x="79.7" y="214.4" width="11.6" height="70.2" fill="none" stroke="#5aaec4" stroke-width="1"/>
<text x="85.5" y="210.7" text-anchor="middle" font-size="8.8" class="ann" fill="#5aaec4" style="stroke:#5aaec4">&amp;</text>
<line x1="24.2" y1="201.5" x2="24.2" y2="293.1" stroke="#1a1a1a" stroke-width="1.1"/>
<line x1="23.7" y1="292.6" x2="163" y2="292.6" stroke="#1a1a1a" stroke-width="1.1"/>
<g transform="translate(0,0)">
<line x1="20.9" y1="204.8" x2="24.2" y2="204.8" stroke="#1a1a1a" stroke-width="1"/>
<text x="17.4" y="207.8" text-anchor="end" font-size="8.3" fill="#111">4</text>
<line x1="20.9" y1="222.3" x2="24.2" y2="222.3" stroke="#1a1a1a" stroke-width="1"/>
<text x="17.4" y="225.3" text-anchor="end" font-size="8.3" fill="#111">2</text>
<line x1="20.9" y1="239.6" x2="24.2" y2="239.6" stroke="#1a1a1a" stroke-width="1"/>
<text x="17.4" y="242.6" text-anchor="end" font-size="8.3" fill="#111">0</text>
<line x1="20.9" y1="257" x2="24.2" y2="257" stroke="#1a1a1a" stroke-width="1"/>
<text x="17.4" y="260" text-anchor="end" font-size="8.3" fill="#111">−2</text>
<line x1="20.9" y1="274.5" x2="24.2" y2="274.5" stroke="#1a1a1a" stroke-width="1"/>
<text x="17.4" y="277.5" text-anchor="end" font-size="8.3" fill="#111">−4</text>
<line x1="20.9" y1="292" x2="24.2" y2="292" stroke="#1a1a1a" stroke-width="1"/>
<text x="17.4" y="295" text-anchor="end" font-size="8.3" fill="#111">−6</text>
</g>
<line x1="24.2" y1="292.6" x2="24.2" y2="295.6" stroke="#1a1a1a" stroke-width="1"/>
<text x="24.2" y="306.8" text-anchor="middle" font-size="8.3" fill="#111">0</text>
<line x1="36.44" y1="292.6" x2="36.44" y2="295.6" stroke="#1a1a1a" stroke-width="1"/>
<text x="36.44" y="306.8" text-anchor="middle" font-size="8.3" fill="#111">1</text>
<line x1="48.67" y1="292.6" x2="48.67" y2="295.6" stroke="#1a1a1a" stroke-width="1"/>
<text x="48.67" y="306.8" text-anchor="middle" font-size="8.3" fill="#111">2</text>
<line x1="60.91" y1="292.6" x2="60.91" y2="295.6" stroke="#1a1a1a" stroke-width="1"/>
<text x="60.91" y="306.8" text-anchor="middle" font-size="8.3" fill="#111">3</text>
<line x1="73.14" y1="292.6" x2="73.14" y2="295.6" stroke="#1a1a1a" stroke-width="1"/>
<text x="73.14" y="306.8" text-anchor="middle" font-size="8.3" fill="#111">4</text>
<line x1="85.38" y1="292.6" x2="85.38" y2="295.6" stroke="#1a1a1a" stroke-width="1"/>
<text x="85.38" y="306.8" text-anchor="middle" font-size="8.3" fill="#111">5</text>
<line x1="97.62" y1="292.6" x2="97.62" y2="295.6" stroke="#1a1a1a" stroke-width="1"/>
<text x="97.62" y="306.8" text-anchor="middle" font-size="8.3" fill="#111">1</text>
<line x1="109.85" y1="292.6" x2="109.85" y2="295.6" stroke="#1a1a1a" stroke-width="1"/>
<text x="109.85" y="306.8" text-anchor="middle" font-size="8.3" fill="#111">2</text>
<line x1="122.09" y1="292.6" x2="122.09" y2="295.6" stroke="#1a1a1a" stroke-width="1"/>
<text x="122.09" y="306.8" text-anchor="middle" font-size="8.3" fill="#111">3</text>
<line x1="134.32" y1="292.6" x2="134.32" y2="295.6" stroke="#1a1a1a" stroke-width="1"/>
<text x="134.32" y="306.8" text-anchor="middle" font-size="8.3" fill="#111">4</text>
<line x1="146.56" y1="292.6" x2="146.56" y2="295.6" stroke="#1a1a1a" stroke-width="1"/>
<text x="146.56" y="306.8" text-anchor="middle" font-size="8.3" fill="#111">5</text>
<line x1="158.8" y1="292.6" x2="158.8" y2="295.6" stroke="#1a1a1a" stroke-width="1"/>
<text x="158.8" y="306.8" text-anchor="middle" font-size="8.3" fill="#111">6</text>
<line x1="21.4" y1="312.1" x2="88.88" y2="312.1" stroke="#222" stroke-width="1.1"/>
<line x1="95.62" y1="312.1" x2="163.4" y2="312.1" stroke="#222" stroke-width="1.1"/>
<text x="55.14" y="323.3" text-anchor="middle" font-size="8.3" fill="#111">Treatment</text>
<text x="55.14" y="333.3" text-anchor="middle" font-size="8.3" fill="#111">(week)</text>
<text x="129.51" y="323.3" text-anchor="middle" font-size="8.3" fill="#111">Follow-up</text>
<text x="129.51" y="333.3" text-anchor="middle" font-size="8.3" fill="#111">(month)</text>
<g transform="translate(0,0)">
<line x1="20.9" y1="225.8" x2="27.5" y2="225.8" stroke="#1a1a1a" stroke-width="1"/>
<line x1="20.9" y1="231.6" x2="27.5" y2="231.6" stroke="#1a1a1a" stroke-width="1"/>
<line x1="20.9" y1="248.3" x2="27.5" y2="248.3" stroke="#1a1a1a" stroke-width="1"/>
<line x1="20.9" y1="254.1" x2="27.5" y2="254.1" stroke="#1a1a1a" stroke-width="1"/>
<polyline points="24.2,239.6 85.38,231.4 97.62,238 109.85,238 122.09,240.9" fill="none" stroke="#1a1a1a" stroke-width="1.15"/>
<polyline points="24.2,239.6 36.44,259.5 48.67,268 60.91,261.2 73.14,266 85.38,276.3 97.62,272.8 109.85,272.4 122.09,272.8 134.32,271.8 146.56,267 158.8,265.2" fill="none" stroke="#1a1a1a" stroke-width="1.15"/>
<line x1="85.38" y1="217.7" x2="85.38" y2="245" stroke="#1a1a1a" stroke-width="1.25"/>
<line x1="82.38" y1="217.7" x2="88.38" y2="217.7" stroke="#1a1a1a" stroke-width="1.1"/>
<line x1="82.38" y1="245" x2="88.38" y2="245" stroke="#1a1a1a" stroke-width="1.1"/>
<line x1="97.62" y1="222.2" x2="97.62" y2="254.4" stroke="#1a1a1a" stroke-width="1.25"/>
<line x1="94.62" y1="222.2" x2="100.62" y2="222.2" stroke="#1a1a1a" stroke-width="1.1"/>
<line x1="94.62" y1="254.4" x2="100.62" y2="254.4" stroke="#1a1a1a" stroke-width="1.1"/>
<line x1="109.85" y1="218.3" x2="109.85" y2="257.3" stroke="#1a1a1a" stroke-width="1.25"/>
<line x1="106.85" y1="218.3" x2="112.85" y2="218.3" stroke="#1a1a1a" stroke-width="1.1"/>
<line x1="106.85" y1="257.3" x2="112.85" y2="257.3" stroke="#1a1a1a" stroke-width="1.1"/>
<line x1="122.09" y1="224.1" x2="122.09" y2="257.3" stroke="#1a1a1a" stroke-width="1.25"/>
<line x1="119.09" y1="224.1" x2="125.09" y2="224.1" stroke="#1a1a1a" stroke-width="1.1"/>
<line x1="119.09" y1="257.3" x2="125.09" y2="257.3" stroke="#1a1a1a" stroke-width="1.1"/>
<line x1="36.44" y1="251.1" x2="36.44" y2="268" stroke="#1a1a1a" stroke-width="1.25"/>
<line x1="33.44" y1="251.1" x2="39.44" y2="251.1" stroke="#1a1a1a" stroke-width="1.1"/>
<line x1="33.44" y1="268" x2="39.44" y2="268" stroke="#1a1a1a" stroke-width="1.1"/>
<line x1="48.67" y1="259.5" x2="48.67" y2="276.3" stroke="#1a1a1a" stroke-width="1.25"/>
<line x1="45.67" y1="259.5" x2="51.67" y2="259.5" stroke="#1a1a1a" stroke-width="1.1"/>
<line x1="45.67" y1="276.3" x2="51.67" y2="276.3" stroke="#1a1a1a" stroke-width="1.1"/>
<line x1="60.91" y1="253.1" x2="60.91" y2="269.5" stroke="#1a1a1a" stroke-width="1.25"/>
<line x1="57.91" y1="253.1" x2="63.91" y2="253.1" stroke="#1a1a1a" stroke-width="1.1"/>
<line x1="57.91" y1="269.5" x2="63.91" y2="269.5" stroke="#1a1a1a" stroke-width="1.1"/>
<line x1="73.14" y1="257.9" x2="73.14" y2="274" stroke="#1a1a1a" stroke-width="1.25"/>
<line x1="70.14" y1="257.9" x2="76.14" y2="257.9" stroke="#1a1a1a" stroke-width="1.1"/>
<line x1="70.14" y1="274" x2="76.14" y2="274" stroke="#1a1a1a" stroke-width="1.1"/>
<line x1="85.38" y1="267.2" x2="85.38" y2="284.6" stroke="#1a1a1a" stroke-width="1.25"/>
<line x1="82.38" y1="267.2" x2="88.38" y2="267.2" stroke="#1a1a1a" stroke-width="1.1"/>
<line x1="82.38" y1="284.6" x2="88.38" y2="284.6" stroke="#1a1a1a" stroke-width="1.1"/>
<line x1="97.62" y1="264.7" x2="97.62" y2="281.5" stroke="#1a1a1a" stroke-width="1.25"/>
<line x1="94.62" y1="264.7" x2="100.62" y2="264.7" stroke="#1a1a1a" stroke-width="1.1"/>
<line x1="94.62" y1="281.5" x2="100.62" y2="281.5" stroke="#1a1a1a" stroke-width="1.1"/>
<line x1="109.85" y1="264.1" x2="109.85" y2="281.5" stroke="#1a1a1a" stroke-width="1.25"/>
<line x1="106.85" y1="264.1" x2="112.85" y2="264.1" stroke="#1a1a1a" stroke-width="1.1"/>
<line x1="106.85" y1="281.5" x2="112.85" y2="281.5" stroke="#1a1a1a" stroke-width="1.1"/>
<line x1="122.09" y1="263.7" x2="122.09" y2="281.5" stroke="#1a1a1a" stroke-width="1.25"/>
<line x1="119.09" y1="263.7" x2="125.09" y2="263.7" stroke="#1a1a1a" stroke-width="1.1"/>
<line x1="119.09" y1="281.5" x2="125.09" y2="281.5" stroke="#1a1a1a" stroke-width="1.1"/>
<line x1="134.32" y1="263.3" x2="134.32" y2="280.7" stroke="#1a1a1a" stroke-width="1.25"/>
<line x1="131.32" y1="263.3" x2="137.32" y2="263.3" stroke="#1a1a1a" stroke-width="1.1"/>
<line x1="131.32" y1="280.7" x2="137.32" y2="280.7" stroke="#1a1a1a" stroke-width="1.1"/>
<line x1="146.56" y1="258.5" x2="146.56" y2="275.7" stroke="#1a1a1a" stroke-width="1.25"/>
<line x1="143.56" y1="258.5" x2="149.56" y2="258.5" stroke="#1a1a1a" stroke-width="1.1"/>
<line x1="143.56" y1="275.7" x2="149.56" y2="275.7" stroke="#1a1a1a" stroke-width="1.1"/>
<line x1="158.8" y1="256.4" x2="158.8" y2="274.3" stroke="#1a1a1a" stroke-width="1.25"/>
<line x1="155.8" y1="256.4" x2="161.8" y2="256.4" stroke="#1a1a1a" stroke-width="1.1"/>
<line x1="155.8" y1="274.3" x2="161.8" y2="274.3" stroke="#1a1a1a" stroke-width="1.1"/>
<circle cx="24.2" cy="239.6" r="3.0" fill="#1a4f82"/>
<circle cx="85.38" cy="231.4" r="3.0" fill="#1a4f82"/>
<circle cx="97.62" cy="238" r="3.0" fill="#1a4f82"/>
<circle cx="109.85" cy="238" r="3.0" fill="#1a4f82"/>
<circle cx="122.09" cy="240.9" r="3.0" fill="#1a4f82"/>
<circle cx="24.2" cy="239.6" r="3.0" fill="#c8102f"/>
<circle cx="36.44" cy="259.5" r="3.0" fill="#c8102f"/>
<circle cx="48.67" cy="268" r="3.0" fill="#c8102f"/>
<circle cx="60.91" cy="261.2" r="3.0" fill="#c8102f"/>
<circle cx="73.14" cy="266" r="3.0" fill="#c8102f"/>
<circle cx="85.38" cy="276.3" r="3.0" fill="#c8102f"/>
<circle cx="97.62" cy="272.8" r="3.0" fill="#c8102f"/>
<circle cx="109.85" cy="272.4" r="3.0" fill="#c8102f"/>
<circle cx="122.09" cy="272.8" r="3.0" fill="#c8102f"/>
<circle cx="134.32" cy="271.8" r="3.0" fill="#c8102f"/>
<circle cx="146.56" cy="267" r="3.0" fill="#c8102f"/>
<circle cx="158.8" cy="265.2" r="3.0" fill="#c8102f"/>
<circle cx="36.44" cy="246.3" r="1.7" fill="#f3c6d0" opacity="0.8"/>
<circle cx="36.44" cy="246.3" r="1.0" fill="#9a2a48"/>
<circle cx="48.67" cy="255" r="1.7" fill="#f3c6d0" opacity="0.8"/>
<circle cx="48.67" cy="255" r="1.0" fill="#9a2a48"/>
<circle cx="60.91" cy="248.6" r="1.7" fill="#f3c6d0" opacity="0.8"/>
<circle cx="60.91" cy="248.6" r="1.0" fill="#9a2a48"/>
<circle cx="73.14" cy="253.1" r="1.7" fill="#f3c6d0" opacity="0.8"/>
<circle cx="73.14" cy="253.1" r="1.0" fill="#9a2a48"/>
<circle cx="85.38" cy="263.1" r="1.7" fill="#f3c6d0" opacity="0.8"/>
<circle cx="85.38" cy="263.1" r="1.0" fill="#9a2a48"/>
<circle cx="97.62" cy="259.8" r="1.7" fill="#f3c6d0" opacity="0.8"/>
<circle cx="97.62" cy="259.8" r="1.0" fill="#9a2a48"/>
<circle cx="109.85" cy="285.3" r="1.7" fill="#f3c6d0" opacity="0.8"/>
<circle cx="109.85" cy="285.3" r="1.0" fill="#9a2a48"/>
<circle cx="122.09" cy="285.3" r="1.7" fill="#f3c6d0" opacity="0.8"/>
<circle cx="122.09" cy="285.3" r="1.0" fill="#9a2a48"/>
<circle cx="134.32" cy="285" r="1.7" fill="#f3c6d0" opacity="0.8"/>
<circle cx="134.32" cy="285" r="1.0" fill="#9a2a48"/>
<circle cx="146.56" cy="253.1" r="1.7" fill="#f3c6d0" opacity="0.8"/>
<circle cx="146.56" cy="253.1" r="1.0" fill="#9a2a48"/>
<circle cx="158.8" cy="251.1" r="1.7" fill="#f3c6d0" opacity="0.8"/>
<circle cx="158.8" cy="251.1" r="1.0" fill="#9a2a48"/>
</g>
<text x="266.2" y="182.9" text-anchor="middle" font-size="10.15" fill="#111">PROMIS-29 Sleep</text>
<text x="266.2" y="196.2" text-anchor="middle" font-size="10.15" fill="#111">Disturbance</text>
<g transform="translate(0,0)">
<line x1="196.9" y1="248.4" x2="330.29" y2="248.4" stroke="#1a1a1a" stroke-width="1.05" stroke-dasharray="2.7 1.97"/>
</g>
<rect x="251.8" y="218.3" width="11.6" height="71.5" fill="none" stroke="#5aaec4" stroke-width="1"/>
<text x="257.6" y="215.5" text-anchor="middle" font-size="8.8" class="ann" fill="#5aaec4" style="stroke:#5aaec4">&amp;</text>
<line x1="196.7" y1="201.5" x2="196.7" y2="293.1" stroke="#1a1a1a" stroke-width="1.1"/>
<line x1="196.2" y1="292.6" x2="335.59" y2="292.6" stroke="#1a1a1a" stroke-width="1.1"/>
<g transform="translate(0,0)">
<line x1="193.4" y1="204.8" x2="196.7" y2="204.8" stroke="#1a1a1a" stroke-width="1"/>
<text x="189.9" y="207.8" text-anchor="end" font-size="8.3" fill="#111">4</text>
<line x1="193.4" y1="226.6" x2="196.7" y2="226.6" stroke="#1a1a1a" stroke-width="1"/>
<text x="189.9" y="229.6" text-anchor="end" font-size="8.3" fill="#111">2</text>
<line x1="193.4" y1="248.2" x2="196.7" y2="248.2" stroke="#1a1a1a" stroke-width="1"/>
<text x="189.9" y="251.2" text-anchor="end" font-size="8.3" fill="#111">0</text>
<line x1="193.4" y1="270.1" x2="196.7" y2="270.1" stroke="#1a1a1a" stroke-width="1"/>
<text x="189.9" y="273.1" text-anchor="end" font-size="8.3" fill="#111">−2</text>
<line x1="193.4" y1="292" x2="196.7" y2="292" stroke="#1a1a1a" stroke-width="1"/>
<text x="189.9" y="295" text-anchor="end" font-size="8.3" fill="#111">−4</text>
</g>
<line x1="196.7" y1="292.6" x2="196.7" y2="295.6" stroke="#1a1a1a" stroke-width="1"/>
<text x="196.7" y="306.8" text-anchor="middle" font-size="8.3" fill="#111">0</text>
<line x1="208.94" y1="292.6" x2="208.94" y2="295.6" stroke="#1a1a1a" stroke-width="1"/>
<text x="208.94" y="306.8" text-anchor="middle" font-size="8.3" fill="#111">1</text>
<line x1="221.19" y1="292.6" x2="221.19" y2="295.6" stroke="#1a1a1a" stroke-width="1"/>
<text x="221.19" y="306.8" text-anchor="middle" font-size="8.3" fill="#111">2</text>
<line x1="233.44" y1="292.6" x2="233.44" y2="295.6" stroke="#1a1a1a" stroke-width="1"/>
<text x="233.44" y="306.8" text-anchor="middle" font-size="8.3" fill="#111">3</text>
<line x1="245.68" y1="292.6" x2="245.68" y2="295.6" stroke="#1a1a1a" stroke-width="1"/>
<text x="245.68" y="306.8" text-anchor="middle" font-size="8.3" fill="#111">4</text>
<line x1="257.92" y1="292.6" x2="257.92" y2="295.6" stroke="#1a1a1a" stroke-width="1"/>
<text x="257.92" y="306.8" text-anchor="middle" font-size="8.3" fill="#111">5</text>
<line x1="270.17" y1="292.6" x2="270.17" y2="295.6" stroke="#1a1a1a" stroke-width="1"/>
<text x="270.17" y="306.8" text-anchor="middle" font-size="8.3" fill="#111">1</text>
<line x1="282.41" y1="292.6" x2="282.41" y2="295.6" stroke="#1a1a1a" stroke-width="1"/>
<text x="282.41" y="306.8" text-anchor="middle" font-size="8.3" fill="#111">2</text>
<line x1="294.66" y1="292.6" x2="294.66" y2="295.6" stroke="#1a1a1a" stroke-width="1"/>
<text x="294.66" y="306.8" text-anchor="middle" font-size="8.3" fill="#111">3</text>
<line x1="306.9" y1="292.6" x2="306.9" y2="295.6" stroke="#1a1a1a" stroke-width="1"/>
<text x="306.9" y="306.8" text-anchor="middle" font-size="8.3" fill="#111">4</text>
<line x1="319.15" y1="292.6" x2="319.15" y2="295.6" stroke="#1a1a1a" stroke-width="1"/>
<text x="319.15" y="306.8" text-anchor="middle" font-size="8.3" fill="#111">5</text>
<line x1="331.39" y1="292.6" x2="331.39" y2="295.6" stroke="#1a1a1a" stroke-width="1"/>
<text x="331.39" y="306.8" text-anchor="middle" font-size="8.3" fill="#111">6</text>
<line x1="193.9" y1="312.1" x2="261.42" y2="312.1" stroke="#222" stroke-width="1.1"/>
<line x1="268.17" y1="312.1" x2="336" y2="312.1" stroke="#222" stroke-width="1.1"/>
<text x="227.66" y="323.3" text-anchor="middle" font-size="8.3" fill="#111">Treatment</text>
<text x="227.66" y="333.3" text-anchor="middle" font-size="8.3" fill="#111">(week)</text>
<text x="302.08" y="323.3" text-anchor="middle" font-size="8.3" fill="#111">Follow-up</text>
<text x="302.08" y="333.3" text-anchor="middle" font-size="8.3" fill="#111">(month)</text>
<g transform="translate(0,0)">
<line x1="193.4" y1="240.4" x2="200" y2="240.4" stroke="#1a1a1a" stroke-width="1"/>
<line x1="193.4" y1="242.9" x2="200" y2="242.9" stroke="#1a1a1a" stroke-width="1"/>
<line x1="193.4" y1="254.4" x2="200" y2="254.4" stroke="#1a1a1a" stroke-width="1"/>
<line x1="193.4" y1="257.2" x2="200" y2="257.2" stroke="#1a1a1a" stroke-width="1"/>
<polyline points="196.7,248.2 257.92,235.7 270.17,242.4 282.41,227.4 294.66,242.4" fill="none" stroke="#1a1a1a" stroke-width="1.15"/>
<polyline points="196.7,248.2 208.94,256.6 221.19,263.7 233.44,261.2 245.68,269.1 257.92,279.2 270.17,273.4 282.41,269.5 294.66,267.6 306.9,272 319.15,263.7 331.39,264.3" fill="none" stroke="#1a1a1a" stroke-width="1.15"/>
<line x1="257.92" y1="227.6" x2="257.92" y2="245" stroke="#1a1a1a" stroke-width="1.25"/>
<line x1="254.92" y1="227.6" x2="260.92" y2="227.6" stroke="#1a1a1a" stroke-width="1.1"/>
<line x1="254.92" y1="245" x2="260.92" y2="245" stroke="#1a1a1a" stroke-width="1.1"/>
<line x1="270.17" y1="230.5" x2="270.17" y2="254.4" stroke="#1a1a1a" stroke-width="1.25"/>
<line x1="267.17" y1="230.5" x2="273.17" y2="230.5" stroke="#1a1a1a" stroke-width="1.1"/>
<line x1="267.17" y1="254.4" x2="273.17" y2="254.4" stroke="#1a1a1a" stroke-width="1.1"/>
<line x1="282.41" y1="211.5" x2="282.41" y2="243.4" stroke="#1a1a1a" stroke-width="1.25"/>
<line x1="279.41" y1="211.5" x2="285.41" y2="211.5" stroke="#1a1a1a" stroke-width="1.1"/>
<line x1="279.41" y1="243.4" x2="285.41" y2="243.4" stroke="#1a1a1a" stroke-width="1.1"/>
<line x1="294.66" y1="229.5" x2="294.66" y2="255.4" stroke="#1a1a1a" stroke-width="1.25"/>
<line x1="291.66" y1="229.5" x2="297.66" y2="229.5" stroke="#1a1a1a" stroke-width="1.1"/>
<line x1="291.66" y1="255.4" x2="297.66" y2="255.4" stroke="#1a1a1a" stroke-width="1.1"/>
<line x1="208.94" y1="251.5" x2="208.94" y2="262.3" stroke="#1a1a1a" stroke-width="1.25"/>
<line x1="205.94" y1="251.5" x2="211.94" y2="251.5" stroke="#1a1a1a" stroke-width="1.1"/>
<line x1="205.94" y1="262.3" x2="211.94" y2="262.3" stroke="#1a1a1a" stroke-width="1.1"/>
<line x1="221.19" y1="258.3" x2="221.19" y2="269.5" stroke="#1a1a1a" stroke-width="1.25"/>
<line x1="218.19" y1="258.3" x2="224.19" y2="258.3" stroke="#1a1a1a" stroke-width="1.1"/>
<line x1="218.19" y1="269.5" x2="224.19" y2="269.5" stroke="#1a1a1a" stroke-width="1.1"/>
<line x1="233.44" y1="255.4" x2="233.44" y2="266.6" stroke="#1a1a1a" stroke-width="1.25"/>
<line x1="230.44" y1="255.4" x2="236.44" y2="255.4" stroke="#1a1a1a" stroke-width="1.1"/>
<line x1="230.44" y1="266.6" x2="236.44" y2="266.6" stroke="#1a1a1a" stroke-width="1.1"/>
<line x1="245.68" y1="263.3" x2="245.68" y2="274.7" stroke="#1a1a1a" stroke-width="1.25"/>
<line x1="242.68" y1="263.3" x2="248.68" y2="263.3" stroke="#1a1a1a" stroke-width="1.1"/>
<line x1="242.68" y1="274.7" x2="248.68" y2="274.7" stroke="#1a1a1a" stroke-width="1.1"/>
<line x1="257.92" y1="273.4" x2="257.92" y2="284.6" stroke="#1a1a1a" stroke-width="1.25"/>
<line x1="254.92" y1="273.4" x2="260.92" y2="273.4" stroke="#1a1a1a" stroke-width="1.1"/>
<line x1="254.92" y1="284.6" x2="260.92" y2="284.6" stroke="#1a1a1a" stroke-width="1.1"/>
<line x1="270.17" y1="267.2" x2="270.17" y2="279.2" stroke="#1a1a1a" stroke-width="1.25"/>
<line x1="267.17" y1="267.2" x2="273.17" y2="267.2" stroke="#1a1a1a" stroke-width="1.1"/>
<line x1="267.17" y1="279.2" x2="273.17" y2="279.2" stroke="#1a1a1a" stroke-width="1.1"/>
<line x1="282.41" y1="263.7" x2="282.41" y2="275.9" stroke="#1a1a1a" stroke-width="1.25"/>
<line x1="279.41" y1="263.7" x2="285.41" y2="263.7" stroke="#1a1a1a" stroke-width="1.1"/>
<line x1="279.41" y1="275.9" x2="285.41" y2="275.9" stroke="#1a1a1a" stroke-width="1.1"/>
<line x1="294.66" y1="261.4" x2="294.66" y2="273.9" stroke="#1a1a1a" stroke-width="1.25"/>
<line x1="291.66" y1="261.4" x2="297.66" y2="261.4" stroke="#1a1a1a" stroke-width="1.1"/>
<line x1="291.66" y1="273.9" x2="297.66" y2="273.9" stroke="#1a1a1a" stroke-width="1.1"/>
<line x1="306.9" y1="265.6" x2="306.9" y2="278.8" stroke="#1a1a1a" stroke-width="1.25"/>
<line x1="303.9" y1="265.6" x2="309.9" y2="265.6" stroke="#1a1a1a" stroke-width="1.1"/>
<line x1="303.9" y1="278.8" x2="309.9" y2="278.8" stroke="#1a1a1a" stroke-width="1.1"/>
<line x1="319.15" y1="256.5" x2="319.15" y2="270.5" stroke="#1a1a1a" stroke-width="1.25"/>
<line x1="316.15" y1="256.5" x2="322.15" y2="256.5" stroke="#1a1a1a" stroke-width="1.1"/>
<line x1="316.15" y1="270.5" x2="322.15" y2="270.5" stroke="#1a1a1a" stroke-width="1.1"/>
<line x1="331.39" y1="257.3" x2="331.39" y2="271" stroke="#1a1a1a" stroke-width="1.25"/>
<line x1="328.39" y1="257.3" x2="334.39" y2="257.3" stroke="#1a1a1a" stroke-width="1.1"/>
<line x1="328.39" y1="271" x2="334.39" y2="271" stroke="#1a1a1a" stroke-width="1.1"/>
<circle cx="196.7" cy="248.2" r="3.0" fill="#1a4f82"/>
<circle cx="257.92" cy="235.7" r="3.0" fill="#1a4f82"/>
<circle cx="270.17" cy="242.4" r="3.0" fill="#1a4f82"/>
<circle cx="282.41" cy="227.4" r="3.0" fill="#1a4f82"/>
<circle cx="294.66" cy="242.4" r="3.0" fill="#1a4f82"/>
<circle cx="196.7" cy="248.2" r="3.0" fill="#c8102f"/>
<circle cx="208.94" cy="256.6" r="3.0" fill="#c8102f"/>
<circle cx="221.19" cy="263.7" r="3.0" fill="#c8102f"/>
<circle cx="233.44" cy="261.2" r="3.0" fill="#c8102f"/>
<circle cx="245.68" cy="269.1" r="3.0" fill="#c8102f"/>
<circle cx="257.92" cy="279.2" r="3.0" fill="#c8102f"/>
<circle cx="270.17" cy="273.4" r="3.0" fill="#c8102f"/>
<circle cx="282.41" cy="269.5" r="3.0" fill="#c8102f"/>
<circle cx="294.66" cy="267.6" r="3.0" fill="#c8102f"/>
<circle cx="306.9" cy="272" r="3.0" fill="#c8102f"/>
<circle cx="319.15" cy="263.7" r="3.0" fill="#c8102f"/>
<circle cx="331.39" cy="264.3" r="3.0" fill="#c8102f"/>
<text x="221.19" y="279.3" text-anchor="middle" font-size="8.8" class="ann" fill="#d2405f" style="stroke:#d2405f">&amp;</text>
<text x="233.44" y="253.2" text-anchor="middle" font-size="8.8" class="ann" fill="#d2405f" style="stroke:#d2405f">#</text>
<circle cx="245.68" cy="278.8" r="1.7" fill="#f3c6d0" opacity="0.8"/>
<circle cx="245.68" cy="278.8" r="1.0" fill="#9a2a48"/>
<circle cx="257.92" cy="268.5" r="1.7" fill="#f3c6d0" opacity="0.8"/>
<circle cx="257.92" cy="268.5" r="1.0" fill="#9a2a48"/>
<circle cx="270.17" cy="262.7" r="1.7" fill="#f3c6d0" opacity="0.8"/>
<circle cx="270.17" cy="262.7" r="1.0" fill="#9a2a48"/>
<circle cx="282.41" cy="280.1" r="1.7" fill="#f3c6d0" opacity="0.8"/>
<circle cx="282.41" cy="280.1" r="1.0" fill="#9a2a48"/>
<text x="294.66" y="283.7" text-anchor="middle" font-size="8.8" class="ann" fill="#d2405f" style="stroke:#d2405f">&amp;</text>
<circle cx="306.9" cy="283" r="1.7" fill="#f3c6d0" opacity="0.8"/>
<circle cx="306.9" cy="283" r="1.0" fill="#9a2a48"/>
<text x="319.15" y="253.2" text-anchor="middle" font-size="8.8" class="ann" fill="#d2405f" style="stroke:#d2405f">#</text>
<text x="331.39" y="280.2" text-anchor="middle" font-size="8.8" class="ann" fill="#d2405f" style="stroke:#d2405f">#</text>
</g>
<text x="443" y="183.5" text-anchor="middle" font-size="10.15" fill="#111">PROMIS-29 Physical</text>
<text x="443" y="196.2" text-anchor="middle" font-size="10.15" fill="#111">Dysfunction</text>
<g transform="translate(0,0)">
<line x1="374.5" y1="248.8" x2="507.29" y2="248.8" stroke="#1a1a1a" stroke-width="1.05" stroke-dasharray="2.7 1.97"/>
</g>
<rect x="428.5" y="228" width="12" height="63.1" fill="none" stroke="#5aaec4" stroke-width="1"/>
<text x="434.5" y="224.2" text-anchor="middle" font-size="8.8" class="ann" fill="#5aaec4" style="stroke:#5aaec4">#</text>
<line x1="374.3" y1="201.5" x2="374.3" y2="293.1" stroke="#1a1a1a" stroke-width="1.1"/>
<line x1="373.8" y1="292.6" x2="512.59" y2="292.6" stroke="#1a1a1a" stroke-width="1.1"/>
<g transform="translate(0,0)">
<line x1="371" y1="204.8" x2="374.3" y2="204.8" stroke="#1a1a1a" stroke-width="1"/>
<text x="367.5" y="207.8" text-anchor="end" font-size="8.3" fill="#111">4</text>
<line x1="371" y1="226.6" x2="374.3" y2="226.6" stroke="#1a1a1a" stroke-width="1"/>
<text x="367.5" y="229.6" text-anchor="end" font-size="8.3" fill="#111">2</text>
<line x1="371" y1="248.6" x2="374.3" y2="248.6" stroke="#1a1a1a" stroke-width="1"/>
<text x="367.5" y="251.6" text-anchor="end" font-size="8.3" fill="#111">0</text>
<line x1="371" y1="270.5" x2="374.3" y2="270.5" stroke="#1a1a1a" stroke-width="1"/>
<text x="367.5" y="273.5" text-anchor="end" font-size="8.3" fill="#111">−2</text>
<line x1="371" y1="292" x2="374.3" y2="292" stroke="#1a1a1a" stroke-width="1"/>
<text x="367.5" y="295" text-anchor="end" font-size="8.3" fill="#111">−4</text>
</g>
<line x1="374.3" y1="292.6" x2="374.3" y2="295.6" stroke="#1a1a1a" stroke-width="1"/>
<text x="374.3" y="306.8" text-anchor="middle" font-size="8.3" fill="#111">0</text>
<line x1="386.49" y1="292.6" x2="386.49" y2="295.6" stroke="#1a1a1a" stroke-width="1"/>
<text x="386.49" y="306.8" text-anchor="middle" font-size="8.3" fill="#111">1</text>
<line x1="398.68" y1="292.6" x2="398.68" y2="295.6" stroke="#1a1a1a" stroke-width="1"/>
<text x="398.68" y="306.8" text-anchor="middle" font-size="8.3" fill="#111">2</text>
<line x1="410.87" y1="292.6" x2="410.87" y2="295.6" stroke="#1a1a1a" stroke-width="1"/>
<text x="410.87" y="306.8" text-anchor="middle" font-size="8.3" fill="#111">3</text>
<line x1="423.06" y1="292.6" x2="423.06" y2="295.6" stroke="#1a1a1a" stroke-width="1"/>
<text x="423.06" y="306.8" text-anchor="middle" font-size="8.3" fill="#111">4</text>
<line x1="435.25" y1="292.6" x2="435.25" y2="295.6" stroke="#1a1a1a" stroke-width="1"/>
<text x="435.25" y="306.8" text-anchor="middle" font-size="8.3" fill="#111">5</text>
<line x1="447.44" y1="292.6" x2="447.44" y2="295.6" stroke="#1a1a1a" stroke-width="1"/>
<text x="447.44" y="306.8" text-anchor="middle" font-size="8.3" fill="#111">1</text>
<line x1="459.63" y1="292.6" x2="459.63" y2="295.6" stroke="#1a1a1a" stroke-width="1"/>
<text x="459.63" y="306.8" text-anchor="middle" font-size="8.3" fill="#111">2</text>
<line x1="471.82" y1="292.6" x2="471.82" y2="295.6" stroke="#1a1a1a" stroke-width="1"/>
<text x="471.82" y="306.8" text-anchor="middle" font-size="8.3" fill="#111">3</text>
<line x1="484.01" y1="292.6" x2="484.01" y2="295.6" stroke="#1a1a1a" stroke-width="1"/>
<text x="484.01" y="306.8" text-anchor="middle" font-size="8.3" fill="#111">4</text>
<line x1="496.2" y1="292.6" x2="496.2" y2="295.6" stroke="#1a1a1a" stroke-width="1"/>
<text x="496.2" y="306.8" text-anchor="middle" font-size="8.3" fill="#111">5</text>
<line x1="508.39" y1="292.6" x2="508.39" y2="295.6" stroke="#1a1a1a" stroke-width="1"/>
<text x="508.39" y="306.8" text-anchor="middle" font-size="8.3" fill="#111">6</text>
<line x1="371.5" y1="312.1" x2="438.75" y2="312.1" stroke="#222" stroke-width="1.1"/>
<line x1="445.44" y1="312.1" x2="512.99" y2="312.1" stroke="#222" stroke-width="1.1"/>
<text x="405.12" y="323.3" text-anchor="middle" font-size="8.3" fill="#111">Treatment</text>
<text x="405.12" y="333.3" text-anchor="middle" font-size="8.3" fill="#111">(week)</text>
<text x="479.21" y="323.3" text-anchor="middle" font-size="8.3" fill="#111">Follow-up</text>
<text x="479.21" y="333.3" text-anchor="middle" font-size="8.3" fill="#111">(month)</text>
<g transform="translate(0,0)">
<line x1="371" y1="234.6" x2="377.6" y2="234.6" stroke="#1a1a1a" stroke-width="1"/>
<line x1="371" y1="239.6" x2="377.6" y2="239.6" stroke="#1a1a1a" stroke-width="1"/>
<line x1="371" y1="257.4" x2="377.6" y2="257.4" stroke="#1a1a1a" stroke-width="1"/>
<line x1="371" y1="262.8" x2="377.6" y2="262.8" stroke="#1a1a1a" stroke-width="1"/>
<polyline points="374.3,248.6 435.25,247.3 447.44,242.4 459.63,256.4 471.82,254" fill="none" stroke="#1a1a1a" stroke-width="1.15"/>
<polyline points="374.3,248.6 386.49,264.1 398.68,266 410.87,267 423.06,268.9 435.25,274.9 447.44,272.8 459.63,272 471.82,277.8 484.01,275 496.2,261.8 508.39,271.2" fill="none" stroke="#1a1a1a" stroke-width="1.15"/>
<line x1="435.25" y1="233.2" x2="435.25" y2="261.4" stroke="#1a1a1a" stroke-width="1.25"/>
<line x1="432.25" y1="233.2" x2="438.25" y2="233.2" stroke="#1a1a1a" stroke-width="1.1"/>
<line x1="432.25" y1="261.4" x2="438.25" y2="261.4" stroke="#1a1a1a" stroke-width="1.1"/>
<line x1="447.44" y1="227" x2="447.44" y2="257.9" stroke="#1a1a1a" stroke-width="1.25"/>
<line x1="444.44" y1="227" x2="450.44" y2="227" stroke="#1a1a1a" stroke-width="1.1"/>
<line x1="444.44" y1="257.9" x2="450.44" y2="257.9" stroke="#1a1a1a" stroke-width="1.1"/>
<line x1="459.63" y1="239.2" x2="459.63" y2="273.4" stroke="#1a1a1a" stroke-width="1.25"/>
<line x1="456.63" y1="239.2" x2="462.63" y2="239.2" stroke="#1a1a1a" stroke-width="1.1"/>
<line x1="456.63" y1="273.4" x2="462.63" y2="273.4" stroke="#1a1a1a" stroke-width="1.1"/>
<line x1="471.82" y1="238" x2="471.82" y2="269.5" stroke="#1a1a1a" stroke-width="1.25"/>
<line x1="468.82" y1="238" x2="474.82" y2="238" stroke="#1a1a1a" stroke-width="1.1"/>
<line x1="468.82" y1="269.5" x2="474.82" y2="269.5" stroke="#1a1a1a" stroke-width="1.1"/>
<line x1="386.49" y1="255.4" x2="386.49" y2="272.4" stroke="#1a1a1a" stroke-width="1.25"/>
<line x1="383.49" y1="255.4" x2="389.49" y2="255.4" stroke="#1a1a1a" stroke-width="1.1"/>
<line x1="383.49" y1="272.4" x2="389.49" y2="272.4" stroke="#1a1a1a" stroke-width="1.1"/>
<line x1="398.68" y1="257.5" x2="398.68" y2="275.3" stroke="#1a1a1a" stroke-width="1.25"/>
<line x1="395.68" y1="257.5" x2="401.68" y2="257.5" stroke="#1a1a1a" stroke-width="1.1"/>
<line x1="395.68" y1="275.3" x2="401.68" y2="275.3" stroke="#1a1a1a" stroke-width="1.1"/>
<line x1="410.87" y1="258.5" x2="410.87" y2="276.3" stroke="#1a1a1a" stroke-width="1.25"/>
<line x1="407.87" y1="258.5" x2="413.87" y2="258.5" stroke="#1a1a1a" stroke-width="1.1"/>
<line x1="407.87" y1="276.3" x2="413.87" y2="276.3" stroke="#1a1a1a" stroke-width="1.1"/>
<line x1="423.06" y1="260.2" x2="423.06" y2="277.2" stroke="#1a1a1a" stroke-width="1.25"/>
<line x1="420.06" y1="260.2" x2="426.06" y2="260.2" stroke="#1a1a1a" stroke-width="1.1"/>
<line x1="420.06" y1="277.2" x2="426.06" y2="277.2" stroke="#1a1a1a" stroke-width="1.1"/>
<line x1="435.25" y1="266.4" x2="435.25" y2="283.7" stroke="#1a1a1a" stroke-width="1.25"/>
<line x1="432.25" y1="266.4" x2="438.25" y2="266.4" stroke="#1a1a1a" stroke-width="1.1"/>
<line x1="432.25" y1="283.7" x2="438.25" y2="283.7" stroke="#1a1a1a" stroke-width="1.1"/>
<line x1="447.44" y1="264.7" x2="447.44" y2="281.5" stroke="#1a1a1a" stroke-width="1.25"/>
<line x1="444.44" y1="264.7" x2="450.44" y2="264.7" stroke="#1a1a1a" stroke-width="1.1"/>
<line x1="444.44" y1="281.5" x2="450.44" y2="281.5" stroke="#1a1a1a" stroke-width="1.1"/>
<line x1="459.63" y1="263.7" x2="459.63" y2="281.1" stroke="#1a1a1a" stroke-width="1.25"/>
<line x1="456.63" y1="263.7" x2="462.63" y2="263.7" stroke="#1a1a1a" stroke-width="1.1"/>
<line x1="456.63" y1="281.1" x2="462.63" y2="281.1" stroke="#1a1a1a" stroke-width="1.1"/>
<line x1="471.82" y1="269.1" x2="471.82" y2="286.9" stroke="#1a1a1a" stroke-width="1.25"/>
<line x1="468.82" y1="269.1" x2="474.82" y2="269.1" stroke="#1a1a1a" stroke-width="1.1"/>
<line x1="468.82" y1="286.9" x2="474.82" y2="286.9" stroke="#1a1a1a" stroke-width="1.1"/>
<line x1="484.01" y1="265.2" x2="484.01" y2="284.7" stroke="#1a1a1a" stroke-width="1.25"/>
<line x1="481.01" y1="265.2" x2="487.01" y2="265.2" stroke="#1a1a1a" stroke-width="1.1"/>
<line x1="481.01" y1="284.7" x2="487.01" y2="284.7" stroke="#1a1a1a" stroke-width="1.1"/>
<line x1="496.2" y1="252.5" x2="496.2" y2="271.8" stroke="#1a1a1a" stroke-width="1.25"/>
<line x1="493.2" y1="252.5" x2="499.2" y2="252.5" stroke="#1a1a1a" stroke-width="1.1"/>
<line x1="493.2" y1="271.8" x2="499.2" y2="271.8" stroke="#1a1a1a" stroke-width="1.1"/>
<line x1="508.39" y1="260.9" x2="508.39" y2="281.2" stroke="#1a1a1a" stroke-width="1.25"/>
<line x1="505.39" y1="260.9" x2="511.39" y2="260.9" stroke="#1a1a1a" stroke-width="1.1"/>
<line x1="505.39" y1="281.2" x2="511.39" y2="281.2" stroke="#1a1a1a" stroke-width="1.1"/>
<circle cx="374.3" cy="248.6" r="3.0" fill="#1a4f82"/>
<circle cx="435.25" cy="247.3" r="3.0" fill="#1a4f82"/>
<circle cx="447.44" cy="242.4" r="3.0" fill="#1a4f82"/>
<circle cx="459.63" cy="256.4" r="3.0" fill="#1a4f82"/>
<circle cx="471.82" cy="254" r="3.0" fill="#1a4f82"/>
<circle cx="374.3" cy="248.6" r="3.0" fill="#c8102f"/>
<circle cx="386.49" cy="264.1" r="3.0" fill="#c8102f"/>
<circle cx="398.68" cy="266" r="3.0" fill="#c8102f"/>
<circle cx="410.87" cy="267" r="3.0" fill="#c8102f"/>
<circle cx="423.06" cy="268.9" r="3.0" fill="#c8102f"/>
<circle cx="435.25" cy="274.9" r="3.0" fill="#c8102f"/>
<circle cx="447.44" cy="272.8" r="3.0" fill="#c8102f"/>
<circle cx="459.63" cy="272" r="3.0" fill="#c8102f"/>
<circle cx="471.82" cy="277.8" r="3.0" fill="#c8102f"/>
<circle cx="484.01" cy="275" r="3.0" fill="#c8102f"/>
<circle cx="496.2" cy="261.8" r="3.0" fill="#c8102f"/>
<circle cx="508.39" cy="271.2" r="3.0" fill="#c8102f"/>
<text x="386.49" y="282.2" text-anchor="middle" font-size="8.8" class="ann" fill="#d2405f" style="stroke:#d2405f">#</text>
<text x="398.68" y="256.1" text-anchor="middle" font-size="8.8" class="ann" fill="#d2405f" style="stroke:#d2405f">&amp;</text>
<text x="410.87" y="285.1" text-anchor="middle" font-size="8.8" class="ann" fill="#d2405f" style="stroke:#d2405f">&amp;</text>
<text x="423.06" y="257.4" text-anchor="middle" font-size="8.8" class="ann" fill="#d2405f" style="stroke:#d2405f">&amp;</text>
<circle cx="435.25" cy="288.3" r="1.7" fill="#f3c6d0" opacity="0.8"/>
<circle cx="435.25" cy="288.3" r="1.0" fill="#9a2a48"/>
<circle cx="447.44" cy="286.9" r="1.7" fill="#f3c6d0" opacity="0.8"/>
<circle cx="447.44" cy="286.9" r="1.0" fill="#9a2a48"/>
<circle cx="459.63" cy="285.5" r="1.7" fill="#f3c6d0" opacity="0.8"/>
<circle cx="459.63" cy="285.5" r="1.0" fill="#9a2a48"/>
<circle cx="475.52" cy="272.3" r="1.7" fill="#f3c6d0" opacity="0.8"/>
<circle cx="475.52" cy="272.3" r="1.0" fill="#9a2a48"/>
<circle cx="484.01" cy="259.8" r="1.7" fill="#f3c6d0" opacity="0.8"/>
<circle cx="484.01" cy="259.8" r="1.0" fill="#9a2a48"/>
<text x="496.2" y="280.2" text-anchor="middle" font-size="8.8" class="ann" fill="#d2405f" style="stroke:#d2405f">#</text>
<text x="508.39" y="290" text-anchor="middle" font-size="8.8" class="ann" fill="#d2405f" style="stroke:#d2405f">&amp;</text>
</g>
<text x="93.3" y="361.8" text-anchor="middle" font-size="10.15" fill="#111">PROMIS-29 Anxiety</text>
<g transform="translate(0,0)">
<line x1="24.3" y1="400.7" x2="157.69" y2="400.7" stroke="#1a1a1a" stroke-width="1.05" stroke-dasharray="2.7 1.97"/>
</g>
<rect x="79.3" y="393.7" width="12" height="57.3" fill="none" stroke="#5aaec4" stroke-width="1"/>
<text x="85.3" y="389.6" text-anchor="middle" font-size="8.8" class="ann" fill="#5aaec4" style="stroke:#5aaec4">#</text>
<line x1="24.1" y1="375.5" x2="24.1" y2="466.7" stroke="#1a1a1a" stroke-width="1.1"/>
<line x1="23.6" y1="466.2" x2="162.99" y2="466.2" stroke="#1a1a1a" stroke-width="1.1"/>
<g transform="translate(0,0)">
<line x1="20.8" y1="378.9" x2="24.1" y2="378.9" stroke="#1a1a1a" stroke-width="1"/>
<text x="17.3" y="381.9" text-anchor="end" font-size="8.3" fill="#111">2</text>
<line x1="20.8" y1="400.5" x2="24.1" y2="400.5" stroke="#1a1a1a" stroke-width="1"/>
<text x="17.3" y="403.5" text-anchor="end" font-size="8.3" fill="#111">0</text>
<line x1="20.8" y1="422.3" x2="24.1" y2="422.3" stroke="#1a1a1a" stroke-width="1"/>
<text x="17.3" y="425.3" text-anchor="end" font-size="8.3" fill="#111">−2</text>
<line x1="20.8" y1="444.2" x2="24.1" y2="444.2" stroke="#1a1a1a" stroke-width="1"/>
<text x="17.3" y="447.2" text-anchor="end" font-size="8.3" fill="#111">−4</text>
<line x1="20.8" y1="466" x2="24.1" y2="466" stroke="#1a1a1a" stroke-width="1"/>
<text x="17.3" y="469" text-anchor="end" font-size="8.3" fill="#111">−6</text>
</g>
<line x1="24.1" y1="466.2" x2="24.1" y2="469.2" stroke="#1a1a1a" stroke-width="1"/>
<text x="24.1" y="480.6" text-anchor="middle" font-size="8.3" fill="#111">0</text>
<line x1="36.34" y1="466.2" x2="36.34" y2="469.2" stroke="#1a1a1a" stroke-width="1"/>
<text x="36.34" y="480.6" text-anchor="middle" font-size="8.3" fill="#111">1</text>
<line x1="48.59" y1="466.2" x2="48.59" y2="469.2" stroke="#1a1a1a" stroke-width="1"/>
<text x="48.59" y="480.6" text-anchor="middle" font-size="8.3" fill="#111">2</text>
<line x1="60.84" y1="466.2" x2="60.84" y2="469.2" stroke="#1a1a1a" stroke-width="1"/>
<text x="60.84" y="480.6" text-anchor="middle" font-size="8.3" fill="#111">3</text>
<line x1="73.08" y1="466.2" x2="73.08" y2="469.2" stroke="#1a1a1a" stroke-width="1"/>
<text x="73.08" y="480.6" text-anchor="middle" font-size="8.3" fill="#111">4</text>
<line x1="85.32" y1="466.2" x2="85.32" y2="469.2" stroke="#1a1a1a" stroke-width="1"/>
<text x="85.32" y="480.6" text-anchor="middle" font-size="8.3" fill="#111">5</text>
<line x1="97.57" y1="466.2" x2="97.57" y2="469.2" stroke="#1a1a1a" stroke-width="1"/>
<text x="97.57" y="480.6" text-anchor="middle" font-size="8.3" fill="#111">1</text>
<line x1="109.81" y1="466.2" x2="109.81" y2="469.2" stroke="#1a1a1a" stroke-width="1"/>
<text x="109.81" y="480.6" text-anchor="middle" font-size="8.3" fill="#111">2</text>
<line x1="122.06" y1="466.2" x2="122.06" y2="469.2" stroke="#1a1a1a" stroke-width="1"/>
<text x="122.06" y="480.6" text-anchor="middle" font-size="8.3" fill="#111">3</text>
<line x1="134.31" y1="466.2" x2="134.31" y2="469.2" stroke="#1a1a1a" stroke-width="1"/>
<text x="134.31" y="480.6" text-anchor="middle" font-size="8.3" fill="#111">4</text>
<line x1="146.55" y1="466.2" x2="146.55" y2="469.2" stroke="#1a1a1a" stroke-width="1"/>
<text x="146.55" y="480.6" text-anchor="middle" font-size="8.3" fill="#111">5</text>
<line x1="158.79" y1="466.2" x2="158.79" y2="469.2" stroke="#1a1a1a" stroke-width="1"/>
<text x="158.79" y="480.6" text-anchor="middle" font-size="8.3" fill="#111">6</text>
<line x1="21.3" y1="485.9" x2="88.82" y2="485.9" stroke="#222" stroke-width="1.1"/>
<line x1="95.57" y1="485.9" x2="163.39" y2="485.9" stroke="#222" stroke-width="1.1"/>
<text x="55.06" y="497.1" text-anchor="middle" font-size="8.3" fill="#111">Treatment</text>
<text x="55.06" y="507.1" text-anchor="middle" font-size="8.3" fill="#111">(week)</text>
<text x="129.48" y="497.1" text-anchor="middle" font-size="8.3" fill="#111">Follow-up</text>
<text x="129.48" y="507.1" text-anchor="middle" font-size="8.3" fill="#111">(month)</text>
<g transform="translate(0,0)">
<line x1="20.8" y1="391.2" x2="27.4" y2="391.2" stroke="#1a1a1a" stroke-width="1"/>
<line x1="20.8" y1="410" x2="27.4" y2="410" stroke="#1a1a1a" stroke-width="1"/>
<polyline points="24.1,400.5 85.32,407.5 97.57,409.4 109.81,407.9 122.06,410.4" fill="none" stroke="#1a1a1a" stroke-width="1.15"/>
<polyline points="24.1,400.5 36.34,414.2 48.59,421.4 60.84,426.2 73.08,423.9 85.32,431 97.57,432 109.81,435.3 122.06,423.9 134.31,430.1 146.55,421.4 158.79,424.9" fill="none" stroke="#1a1a1a" stroke-width="1.15"/>
<line x1="85.32" y1="398.2" x2="85.32" y2="417.1" stroke="#1a1a1a" stroke-width="1.25"/>
<line x1="82.32" y1="398.2" x2="88.32" y2="398.2" stroke="#1a1a1a" stroke-width="1.1"/>
<line x1="82.32" y1="417.1" x2="88.32" y2="417.1" stroke="#1a1a1a" stroke-width="1.1"/>
<line x1="97.57" y1="397.8" x2="97.57" y2="420.4" stroke="#1a1a1a" stroke-width="1.25"/>
<line x1="94.57" y1="397.8" x2="100.57" y2="397.8" stroke="#1a1a1a" stroke-width="1.1"/>
<line x1="94.57" y1="420.4" x2="100.57" y2="420.4" stroke="#1a1a1a" stroke-width="1.1"/>
<line x1="109.81" y1="393.7" x2="109.81" y2="422" stroke="#1a1a1a" stroke-width="1.25"/>
<line x1="106.81" y1="393.7" x2="112.81" y2="393.7" stroke="#1a1a1a" stroke-width="1.1"/>
<line x1="106.81" y1="422" x2="112.81" y2="422" stroke="#1a1a1a" stroke-width="1.1"/>
<line x1="122.06" y1="397.8" x2="122.06" y2="414.6" stroke="#1a1a1a" stroke-width="1.25"/>
<line x1="119.06" y1="397.8" x2="125.06" y2="397.8" stroke="#1a1a1a" stroke-width="1.1"/>
<line x1="119.06" y1="414.6" x2="125.06" y2="414.6" stroke="#1a1a1a" stroke-width="1.1"/>
<line x1="36.34" y1="405.3" x2="36.34" y2="422.7" stroke="#1a1a1a" stroke-width="1.25"/>
<line x1="33.34" y1="405.3" x2="39.34" y2="405.3" stroke="#1a1a1a" stroke-width="1.1"/>
<line x1="33.34" y1="422.7" x2="39.34" y2="422.7" stroke="#1a1a1a" stroke-width="1.1"/>
<line x1="48.59" y1="412.7" x2="48.59" y2="429.7" stroke="#1a1a1a" stroke-width="1.25"/>
<line x1="45.59" y1="412.7" x2="51.59" y2="412.7" stroke="#1a1a1a" stroke-width="1.1"/>
<line x1="45.59" y1="429.7" x2="51.59" y2="429.7" stroke="#1a1a1a" stroke-width="1.1"/>
<line x1="60.84" y1="417.1" x2="60.84" y2="434.3" stroke="#1a1a1a" stroke-width="1.25"/>
<line x1="57.84" y1="417.1" x2="63.84" y2="417.1" stroke="#1a1a1a" stroke-width="1.1"/>
<line x1="57.84" y1="434.3" x2="63.84" y2="434.3" stroke="#1a1a1a" stroke-width="1.1"/>
<line x1="73.08" y1="415.2" x2="73.08" y2="432.4" stroke="#1a1a1a" stroke-width="1.25"/>
<line x1="70.08" y1="415.2" x2="76.08" y2="415.2" stroke="#1a1a1a" stroke-width="1.1"/>
<line x1="70.08" y1="432.4" x2="76.08" y2="432.4" stroke="#1a1a1a" stroke-width="1.1"/>
<line x1="85.32" y1="422" x2="85.32" y2="440.1" stroke="#1a1a1a" stroke-width="1.25"/>
<line x1="82.32" y1="422" x2="88.32" y2="422" stroke="#1a1a1a" stroke-width="1.1"/>
<line x1="82.32" y1="440.1" x2="88.32" y2="440.1" stroke="#1a1a1a" stroke-width="1.1"/>
<line x1="97.57" y1="423.3" x2="97.57" y2="440.7" stroke="#1a1a1a" stroke-width="1.25"/>
<line x1="94.57" y1="423.3" x2="100.57" y2="423.3" stroke="#1a1a1a" stroke-width="1.1"/>
<line x1="94.57" y1="440.7" x2="100.57" y2="440.7" stroke="#1a1a1a" stroke-width="1.1"/>
<line x1="109.81" y1="426.2" x2="109.81" y2="444" stroke="#1a1a1a" stroke-width="1.25"/>
<line x1="106.81" y1="426.2" x2="112.81" y2="426.2" stroke="#1a1a1a" stroke-width="1.1"/>
<line x1="106.81" y1="444" x2="112.81" y2="444" stroke="#1a1a1a" stroke-width="1.1"/>
<line x1="122.06" y1="414.6" x2="122.06" y2="433" stroke="#1a1a1a" stroke-width="1.25"/>
<line x1="119.06" y1="414.6" x2="125.06" y2="414.6" stroke="#1a1a1a" stroke-width="1.1"/>
<line x1="119.06" y1="433" x2="125.06" y2="433" stroke="#1a1a1a" stroke-width="1.1"/>
<line x1="134.31" y1="420.8" x2="134.31" y2="439.2" stroke="#1a1a1a" stroke-width="1.25"/>
<line x1="131.31" y1="420.8" x2="137.31" y2="420.8" stroke="#1a1a1a" stroke-width="1.1"/>
<line x1="131.31" y1="439.2" x2="137.31" y2="439.2" stroke="#1a1a1a" stroke-width="1.1"/>
<line x1="146.55" y1="412.3" x2="146.55" y2="431" stroke="#1a1a1a" stroke-width="1.25"/>
<line x1="143.55" y1="412.3" x2="149.55" y2="412.3" stroke="#1a1a1a" stroke-width="1.1"/>
<line x1="143.55" y1="431" x2="149.55" y2="431" stroke="#1a1a1a" stroke-width="1.1"/>
<line x1="158.79" y1="416" x2="158.79" y2="433.9" stroke="#1a1a1a" stroke-width="1.25"/>
<line x1="155.79" y1="416" x2="161.79" y2="416" stroke="#1a1a1a" stroke-width="1.1"/>
<line x1="155.79" y1="433.9" x2="161.79" y2="433.9" stroke="#1a1a1a" stroke-width="1.1"/>
<circle cx="24.1" cy="400.5" r="3.0" fill="#1a4f82"/>
<circle cx="85.32" cy="407.5" r="3.0" fill="#1a4f82"/>
<circle cx="97.57" cy="409.4" r="3.0" fill="#1a4f82"/>
<circle cx="109.81" cy="407.9" r="3.0" fill="#1a4f82"/>
<circle cx="122.06" cy="410.4" r="3.0" fill="#1a4f82"/>
<circle cx="24.1" cy="400.5" r="3.0" fill="#c8102f"/>
<circle cx="36.34" cy="414.2" r="3.0" fill="#c8102f"/>
<circle cx="48.59" cy="421.4" r="3.0" fill="#c8102f"/>
<circle cx="60.84" cy="426.2" r="3.0" fill="#c8102f"/>
<circle cx="73.08" cy="423.9" r="3.0" fill="#c8102f"/>
<circle cx="85.32" cy="431" r="3.0" fill="#c8102f"/>
<circle cx="97.57" cy="432" r="3.0" fill="#c8102f"/>
<circle cx="109.81" cy="435.3" r="3.0" fill="#c8102f"/>
<circle cx="122.06" cy="423.9" r="3.0" fill="#c8102f"/>
<circle cx="134.31" cy="430.1" r="3.0" fill="#c8102f"/>
<circle cx="146.55" cy="421.4" r="3.0" fill="#c8102f"/>
<circle cx="158.79" cy="424.9" r="3.0" fill="#c8102f"/>
<text x="36.34" y="432.7" text-anchor="middle" font-size="8.8" class="ann" fill="#d2405f" style="stroke:#d2405f">&amp;</text>
<circle cx="48.59" cy="434.3" r="1.7" fill="#f3c6d0" opacity="0.8"/>
<circle cx="48.59" cy="434.3" r="1.0" fill="#9a2a48"/>
<circle cx="60.84" cy="438.4" r="1.7" fill="#f3c6d0" opacity="0.8"/>
<circle cx="60.84" cy="438.4" r="1.0" fill="#9a2a48"/>
<circle cx="73.08" cy="436.8" r="1.7" fill="#f3c6d0" opacity="0.8"/>
<circle cx="73.08" cy="436.8" r="1.0" fill="#9a2a48"/>
<circle cx="85.32" cy="444.2" r="1.7" fill="#f3c6d0" opacity="0.8"/>
<circle cx="85.32" cy="444.2" r="1.0" fill="#9a2a48"/>
<circle cx="97.57" cy="445.5" r="1.7" fill="#f3c6d0" opacity="0.8"/>
<circle cx="97.57" cy="445.5" r="1.0" fill="#9a2a48"/>
<circle cx="109.81" cy="448.4" r="1.7" fill="#f3c6d0" opacity="0.8"/>
<circle cx="109.81" cy="448.4" r="1.0" fill="#9a2a48"/>
<circle cx="122.06" cy="437.8" r="1.7" fill="#f3c6d0" opacity="0.8"/>
<circle cx="122.06" cy="437.8" r="1.0" fill="#9a2a48"/>
<circle cx="134.31" cy="443" r="1.7" fill="#f3c6d0" opacity="0.8"/>
<circle cx="134.31" cy="443" r="1.0" fill="#9a2a48"/>
<circle cx="146.55" cy="407.9" r="1.7" fill="#f3c6d0" opacity="0.8"/>
<circle cx="146.55" cy="407.9" r="1.0" fill="#9a2a48"/>
<circle cx="158.79" cy="438.4" r="1.7" fill="#f3c6d0" opacity="0.8"/>
<circle cx="158.79" cy="438.4" r="1.0" fill="#9a2a48"/>
</g>
<text x="266" y="361.8" text-anchor="middle" font-size="10.15" fill="#111">PROMIS-29 Depression</text>
<g transform="translate(0,0)">
<line x1="196.9" y1="422.2" x2="330.29" y2="422.2" stroke="#1a1a1a" stroke-width="1.05" stroke-dasharray="2.7 1.97"/>
</g>
<rect x="252.3" y="398.6" width="11.6" height="62.8" fill="none" stroke="#5aaec4" stroke-width="1"/>
<text x="258.1" y="395.8" text-anchor="middle" font-size="8.8" class="ann" fill="#5aaec4" style="stroke:#5aaec4">&amp;</text>
<line x1="196.7" y1="375.5" x2="196.7" y2="466.7" stroke="#1a1a1a" stroke-width="1.1"/>
<line x1="196.2" y1="466.2" x2="335.59" y2="466.2" stroke="#1a1a1a" stroke-width="1.1"/>
<g transform="translate(0,0)">
<line x1="193.4" y1="378.5" x2="196.7" y2="378.5" stroke="#1a1a1a" stroke-width="1"/>
<text x="189.9" y="381.5" text-anchor="end" font-size="8.3" fill="#111">4</text>
<line x1="193.4" y1="400.1" x2="196.7" y2="400.1" stroke="#1a1a1a" stroke-width="1"/>
<text x="189.9" y="403.1" text-anchor="end" font-size="8.3" fill="#111">2</text>
<line x1="193.4" y1="422" x2="196.7" y2="422" stroke="#1a1a1a" stroke-width="1"/>
<text x="189.9" y="425" text-anchor="end" font-size="8.3" fill="#111">0</text>
<line x1="193.4" y1="444" x2="196.7" y2="444" stroke="#1a1a1a" stroke-width="1"/>
<text x="189.9" y="447" text-anchor="end" font-size="8.3" fill="#111">−2</text>
<line x1="193.4" y1="466" x2="196.7" y2="466" stroke="#1a1a1a" stroke-width="1"/>
<text x="189.9" y="469" text-anchor="end" font-size="8.3" fill="#111">−4</text>
</g>
<line x1="196.7" y1="466.2" x2="196.7" y2="469.2" stroke="#1a1a1a" stroke-width="1"/>
<text x="196.7" y="480.6" text-anchor="middle" font-size="8.3" fill="#111">0</text>
<line x1="208.94" y1="466.2" x2="208.94" y2="469.2" stroke="#1a1a1a" stroke-width="1"/>
<text x="208.94" y="480.6" text-anchor="middle" font-size="8.3" fill="#111">1</text>
<line x1="221.19" y1="466.2" x2="221.19" y2="469.2" stroke="#1a1a1a" stroke-width="1"/>
<text x="221.19" y="480.6" text-anchor="middle" font-size="8.3" fill="#111">2</text>
<line x1="233.44" y1="466.2" x2="233.44" y2="469.2" stroke="#1a1a1a" stroke-width="1"/>
<text x="233.44" y="480.6" text-anchor="middle" font-size="8.3" fill="#111">3</text>
<line x1="245.68" y1="466.2" x2="245.68" y2="469.2" stroke="#1a1a1a" stroke-width="1"/>
<text x="245.68" y="480.6" text-anchor="middle" font-size="8.3" fill="#111">4</text>
<line x1="257.92" y1="466.2" x2="257.92" y2="469.2" stroke="#1a1a1a" stroke-width="1"/>
<text x="257.92" y="480.6" text-anchor="middle" font-size="8.3" fill="#111">5</text>
<line x1="270.17" y1="466.2" x2="270.17" y2="469.2" stroke="#1a1a1a" stroke-width="1"/>
<text x="270.17" y="480.6" text-anchor="middle" font-size="8.3" fill="#111">1</text>
<line x1="282.41" y1="466.2" x2="282.41" y2="469.2" stroke="#1a1a1a" stroke-width="1"/>
<text x="282.41" y="480.6" text-anchor="middle" font-size="8.3" fill="#111">2</text>
<line x1="294.66" y1="466.2" x2="294.66" y2="469.2" stroke="#1a1a1a" stroke-width="1"/>
<text x="294.66" y="480.6" text-anchor="middle" font-size="8.3" fill="#111">3</text>
<line x1="306.9" y1="466.2" x2="306.9" y2="469.2" stroke="#1a1a1a" stroke-width="1"/>
<text x="306.9" y="480.6" text-anchor="middle" font-size="8.3" fill="#111">4</text>
<line x1="319.15" y1="466.2" x2="319.15" y2="469.2" stroke="#1a1a1a" stroke-width="1"/>
<text x="319.15" y="480.6" text-anchor="middle" font-size="8.3" fill="#111">5</text>
<line x1="331.39" y1="466.2" x2="331.39" y2="469.2" stroke="#1a1a1a" stroke-width="1"/>
<text x="331.39" y="480.6" text-anchor="middle" font-size="8.3" fill="#111">6</text>
<line x1="193.9" y1="485.9" x2="261.42" y2="485.9" stroke="#222" stroke-width="1.1"/>
<line x1="268.17" y1="485.9" x2="336" y2="485.9" stroke="#222" stroke-width="1.1"/>
<text x="227.66" y="497.1" text-anchor="middle" font-size="8.3" fill="#111">Treatment</text>
<text x="227.66" y="507.1" text-anchor="middle" font-size="8.3" fill="#111">(week)</text>
<text x="302.08" y="497.1" text-anchor="middle" font-size="8.3" fill="#111">Follow-up</text>
<text x="302.08" y="507.1" text-anchor="middle" font-size="8.3" fill="#111">(month)</text>
<g transform="translate(0,0)">
<line x1="193.4" y1="411.3" x2="200" y2="411.3" stroke="#1a1a1a" stroke-width="1"/>
<line x1="193.4" y1="433.6" x2="200" y2="433.6" stroke="#1a1a1a" stroke-width="1"/>
<polyline points="196.7,422 257.92,413.6 270.17,418.5 282.41,409.4 294.66,405.9" fill="none" stroke="#1a1a1a" stroke-width="1.15"/>
<polyline points="196.7,422 208.94,440.7 221.19,442.2 233.44,444 245.68,443.6 257.92,447.5 270.17,444.2 282.41,453.8 294.66,449 306.9,449.4 319.15,438.4 331.39,441.7" fill="none" stroke="#1a1a1a" stroke-width="1.15"/>
<line x1="257.92" y1="402" x2="257.92" y2="425.6" stroke="#1a1a1a" stroke-width="1.25"/>
<line x1="254.92" y1="402" x2="260.92" y2="402" stroke="#1a1a1a" stroke-width="1.1"/>
<line x1="254.92" y1="425.6" x2="260.92" y2="425.6" stroke="#1a1a1a" stroke-width="1.1"/>
<line x1="270.17" y1="405" x2="270.17" y2="433" stroke="#1a1a1a" stroke-width="1.25"/>
<line x1="267.17" y1="405" x2="273.17" y2="405" stroke="#1a1a1a" stroke-width="1.1"/>
<line x1="267.17" y1="433" x2="273.17" y2="433" stroke="#1a1a1a" stroke-width="1.1"/>
<line x1="282.41" y1="392.8" x2="282.41" y2="426.2" stroke="#1a1a1a" stroke-width="1.25"/>
<line x1="279.41" y1="392.8" x2="285.41" y2="392.8" stroke="#1a1a1a" stroke-width="1.1"/>
<line x1="279.41" y1="426.2" x2="285.41" y2="426.2" stroke="#1a1a1a" stroke-width="1.1"/>
<line x1="294.66" y1="391.4" x2="294.66" y2="420.4" stroke="#1a1a1a" stroke-width="1.25"/>
<line x1="291.66" y1="391.4" x2="297.66" y2="391.4" stroke="#1a1a1a" stroke-width="1.1"/>
<line x1="291.66" y1="420.4" x2="297.66" y2="420.4" stroke="#1a1a1a" stroke-width="1.1"/>
<line x1="208.94" y1="430.7" x2="208.94" y2="451" stroke="#1a1a1a" stroke-width="1.25"/>
<line x1="205.94" y1="430.7" x2="211.94" y2="430.7" stroke="#1a1a1a" stroke-width="1.1"/>
<line x1="205.94" y1="451" x2="211.94" y2="451" stroke="#1a1a1a" stroke-width="1.1"/>
<line x1="221.19" y1="432.4" x2="221.19" y2="453.3" stroke="#1a1a1a" stroke-width="1.25"/>
<line x1="218.19" y1="432.4" x2="224.19" y2="432.4" stroke="#1a1a1a" stroke-width="1.1"/>
<line x1="218.19" y1="453.3" x2="224.19" y2="453.3" stroke="#1a1a1a" stroke-width="1.1"/>
<line x1="233.44" y1="433.4" x2="233.44" y2="454.2" stroke="#1a1a1a" stroke-width="1.25"/>
<line x1="230.44" y1="433.4" x2="236.44" y2="433.4" stroke="#1a1a1a" stroke-width="1.1"/>
<line x1="230.44" y1="454.2" x2="236.44" y2="454.2" stroke="#1a1a1a" stroke-width="1.1"/>
<line x1="245.68" y1="433.4" x2="245.68" y2="454.2" stroke="#1a1a1a" stroke-width="1.25"/>
<line x1="242.68" y1="433.4" x2="248.68" y2="433.4" stroke="#1a1a1a" stroke-width="1.1"/>
<line x1="242.68" y1="454.2" x2="248.68" y2="454.2" stroke="#1a1a1a" stroke-width="1.1"/>
<line x1="257.92" y1="436.8" x2="257.92" y2="457.7" stroke="#1a1a1a" stroke-width="1.25"/>
<line x1="254.92" y1="436.8" x2="260.92" y2="436.8" stroke="#1a1a1a" stroke-width="1.1"/>
<line x1="254.92" y1="457.7" x2="260.92" y2="457.7" stroke="#1a1a1a" stroke-width="1.1"/>
<line x1="270.17" y1="433" x2="270.17" y2="454.8" stroke="#1a1a1a" stroke-width="1.25"/>
<line x1="267.17" y1="433" x2="273.17" y2="433" stroke="#1a1a1a" stroke-width="1.1"/>
<line x1="267.17" y1="454.8" x2="273.17" y2="454.8" stroke="#1a1a1a" stroke-width="1.1"/>
<line x1="282.41" y1="443" x2="282.41" y2="464.3" stroke="#1a1a1a" stroke-width="1.25"/>
<line x1="279.41" y1="443" x2="285.41" y2="443" stroke="#1a1a1a" stroke-width="1.1"/>
<line x1="279.41" y1="464.3" x2="285.41" y2="464.3" stroke="#1a1a1a" stroke-width="1.1"/>
<line x1="294.66" y1="438.2" x2="294.66" y2="459.6" stroke="#1a1a1a" stroke-width="1.25"/>
<line x1="291.66" y1="438.2" x2="297.66" y2="438.2" stroke="#1a1a1a" stroke-width="1.1"/>
<line x1="291.66" y1="459.6" x2="297.66" y2="459.6" stroke="#1a1a1a" stroke-width="1.1"/>
<line x1="306.9" y1="438.8" x2="306.9" y2="460" stroke="#1a1a1a" stroke-width="1.25"/>
<line x1="303.9" y1="438.8" x2="309.9" y2="438.8" stroke="#1a1a1a" stroke-width="1.1"/>
<line x1="303.9" y1="460" x2="309.9" y2="460" stroke="#1a1a1a" stroke-width="1.1"/>
<line x1="319.15" y1="427.2" x2="319.15" y2="449.4" stroke="#1a1a1a" stroke-width="1.25"/>
<line x1="316.15" y1="427.2" x2="322.15" y2="427.2" stroke="#1a1a1a" stroke-width="1.1"/>
<line x1="316.15" y1="449.4" x2="322.15" y2="449.4" stroke="#1a1a1a" stroke-width="1.1"/>
<line x1="331.39" y1="430.5" x2="331.39" y2="451.9" stroke="#1a1a1a" stroke-width="1.25"/>
<line x1="328.39" y1="430.5" x2="334.39" y2="430.5" stroke="#1a1a1a" stroke-width="1.1"/>
<line x1="328.39" y1="451.9" x2="334.39" y2="451.9" stroke="#1a1a1a" stroke-width="1.1"/>
<circle cx="196.7" cy="422" r="3.0" fill="#1a4f82"/>
<circle cx="257.92" cy="413.6" r="3.0" fill="#1a4f82"/>
<circle cx="270.17" cy="418.5" r="3.0" fill="#1a4f82"/>
<circle cx="282.41" cy="409.4" r="3.0" fill="#1a4f82"/>
<circle cx="294.66" cy="405.9" r="3.0" fill="#1a4f82"/>
<circle cx="196.7" cy="422" r="3.0" fill="#c8102f"/>
<circle cx="208.94" cy="440.7" r="3.0" fill="#c8102f"/>
<circle cx="221.19" cy="442.2" r="3.0" fill="#c8102f"/>
<circle cx="233.44" cy="444" r="3.0" fill="#c8102f"/>
<circle cx="245.68" cy="443.6" r="3.0" fill="#c8102f"/>
<circle cx="257.92" cy="447.5" r="3.0" fill="#c8102f"/>
<circle cx="270.17" cy="444.2" r="3.0" fill="#c8102f"/>
<circle cx="282.41" cy="453.8" r="3.0" fill="#c8102f"/>
<circle cx="294.66" cy="449" r="3.0" fill="#c8102f"/>
<circle cx="306.9" cy="449.4" r="3.0" fill="#c8102f"/>
<circle cx="319.15" cy="438.4" r="3.0" fill="#c8102f"/>
<circle cx="331.39" cy="441.7" r="3.0" fill="#c8102f"/>
<circle cx="208.94" cy="426.2" r="1.7" fill="#f3c6d0" opacity="0.8"/>
<circle cx="208.94" cy="426.2" r="1.0" fill="#9a2a48"/>
<circle cx="221.19" cy="457.7" r="1.7" fill="#f3c6d0" opacity="0.8"/>
<circle cx="221.19" cy="457.7" r="1.0" fill="#9a2a48"/>
<circle cx="233.44" cy="427.6" r="1.7" fill="#f3c6d0" opacity="0.8"/>
<circle cx="233.44" cy="427.6" r="1.0" fill="#9a2a48"/>
<circle cx="245.68" cy="457.1" r="1.7" fill="#f3c6d0" opacity="0.8"/>
<circle cx="245.68" cy="457.1" r="1.0" fill="#9a2a48"/>
<circle cx="257.92" cy="432" r="1.7" fill="#f3c6d0" opacity="0.8"/>
<circle cx="257.92" cy="432" r="1.0" fill="#9a2a48"/>
<circle cx="270.17" cy="459.1" r="1.7" fill="#f3c6d0" opacity="0.8"/>
<circle cx="270.17" cy="459.1" r="1.0" fill="#9a2a48"/>
<circle cx="282.41" cy="436.8" r="1.7" fill="#f3c6d0" opacity="0.8"/>
<circle cx="282.41" cy="436.8" r="1.0" fill="#9a2a48"/>
<circle cx="294.66" cy="432.6" r="1.7" fill="#f3c6d0" opacity="0.8"/>
<circle cx="294.66" cy="432.6" r="1.0" fill="#9a2a48"/>
<circle cx="306.9" cy="432.6" r="1.7" fill="#f3c6d0" opacity="0.8"/>
<circle cx="306.9" cy="432.6" r="1.0" fill="#9a2a48"/>
<text x="319.15" y="460.7" text-anchor="middle" font-size="8.8" class="ann" fill="#d2405f" style="stroke:#d2405f">&amp;</text>
<text x="331.39" y="462.1" text-anchor="middle" font-size="8.8" class="ann" fill="#d2405f" style="stroke:#d2405f">&amp;</text>
</g>
<text x="443.3" y="361.6" text-anchor="middle" font-size="10.15" fill="#111">PedsQL</text>
<g transform="translate(0,0)">
<line x1="374.5" y1="437" x2="507.18" y2="437" stroke="#1a1a1a" stroke-width="1.05" stroke-dasharray="2.7 1.97"/>
</g>
<rect x="429.8" y="378.5" width="12.2" height="69.5" fill="none" stroke="#5aaec4" stroke-width="1"/>
<text x="435.9" y="375.5" text-anchor="middle" font-size="8.8" class="ann" fill="#5aaec4" style="stroke:#5aaec4">&amp;</text>
<line x1="374.3" y1="375.5" x2="374.3" y2="466.7" stroke="#1a1a1a" stroke-width="1.1"/>
<line x1="373.8" y1="466.2" x2="512.48" y2="466.2" stroke="#1a1a1a" stroke-width="1.1"/>
<g transform="translate(0,0)">
<line x1="371" y1="378.9" x2="374.3" y2="378.9" stroke="#1a1a1a" stroke-width="1"/>
<text x="367.5" y="381.9" text-anchor="end" font-size="8.3" fill="#111">20</text>
<line x1="371" y1="393.4" x2="374.3" y2="393.4" stroke="#1a1a1a" stroke-width="1"/>
<text x="367.5" y="396.4" text-anchor="end" font-size="8.3" fill="#111">15</text>
<line x1="371" y1="407.9" x2="374.3" y2="407.9" stroke="#1a1a1a" stroke-width="1"/>
<text x="367.5" y="410.9" text-anchor="end" font-size="8.3" fill="#111">10</text>
<line x1="371" y1="422.3" x2="374.3" y2="422.3" stroke="#1a1a1a" stroke-width="1"/>
<text x="367.5" y="425.3" text-anchor="end" font-size="8.3" fill="#111">5</text>
<line x1="371" y1="436.8" x2="374.3" y2="436.8" stroke="#1a1a1a" stroke-width="1"/>
<text x="367.5" y="439.8" text-anchor="end" font-size="8.3" fill="#111">0</text>
<line x1="371" y1="451.3" x2="374.3" y2="451.3" stroke="#1a1a1a" stroke-width="1"/>
<text x="367.5" y="454.3" text-anchor="end" font-size="8.3" fill="#111">−5</text>
<line x1="371" y1="465.8" x2="374.3" y2="465.8" stroke="#1a1a1a" stroke-width="1"/>
<text x="367.5" y="468.8" text-anchor="end" font-size="8.3" fill="#111">−10</text>
</g>
<line x1="374.3" y1="466.2" x2="374.3" y2="469.2" stroke="#1a1a1a" stroke-width="1"/>
<text x="374.3" y="480.6" text-anchor="middle" font-size="8.3" fill="#111">0</text>
<line x1="386.48" y1="466.2" x2="386.48" y2="469.2" stroke="#1a1a1a" stroke-width="1"/>
<text x="386.48" y="480.6" text-anchor="middle" font-size="8.3" fill="#111">1</text>
<line x1="398.66" y1="466.2" x2="398.66" y2="469.2" stroke="#1a1a1a" stroke-width="1"/>
<text x="398.66" y="480.6" text-anchor="middle" font-size="8.3" fill="#111">2</text>
<line x1="410.84" y1="466.2" x2="410.84" y2="469.2" stroke="#1a1a1a" stroke-width="1"/>
<text x="410.84" y="480.6" text-anchor="middle" font-size="8.3" fill="#111">3</text>
<line x1="423.02" y1="466.2" x2="423.02" y2="469.2" stroke="#1a1a1a" stroke-width="1"/>
<text x="423.02" y="480.6" text-anchor="middle" font-size="8.3" fill="#111">4</text>
<line x1="435.2" y1="466.2" x2="435.2" y2="469.2" stroke="#1a1a1a" stroke-width="1"/>
<text x="435.2" y="480.6" text-anchor="middle" font-size="8.3" fill="#111">5</text>
<line x1="447.38" y1="466.2" x2="447.38" y2="469.2" stroke="#1a1a1a" stroke-width="1"/>
<text x="447.38" y="480.6" text-anchor="middle" font-size="8.3" fill="#111">1</text>
<line x1="459.56" y1="466.2" x2="459.56" y2="469.2" stroke="#1a1a1a" stroke-width="1"/>
<text x="459.56" y="480.6" text-anchor="middle" font-size="8.3" fill="#111">2</text>
<line x1="471.74" y1="466.2" x2="471.74" y2="469.2" stroke="#1a1a1a" stroke-width="1"/>
<text x="471.74" y="480.6" text-anchor="middle" font-size="8.3" fill="#111">3</text>
<line x1="483.92" y1="466.2" x2="483.92" y2="469.2" stroke="#1a1a1a" stroke-width="1"/>
<text x="483.92" y="480.6" text-anchor="middle" font-size="8.3" fill="#111">4</text>
<line x1="496.1" y1="466.2" x2="496.1" y2="469.2" stroke="#1a1a1a" stroke-width="1"/>
<text x="496.1" y="480.6" text-anchor="middle" font-size="8.3" fill="#111">5</text>
<line x1="508.28" y1="466.2" x2="508.28" y2="469.2" stroke="#1a1a1a" stroke-width="1"/>
<text x="508.28" y="480.6" text-anchor="middle" font-size="8.3" fill="#111">6</text>
<line x1="371.5" y1="485.9" x2="438.7" y2="485.9" stroke="#222" stroke-width="1.1"/>
<line x1="445.38" y1="485.9" x2="512.88" y2="485.9" stroke="#222" stroke-width="1.1"/>
<text x="405.1" y="497.1" text-anchor="middle" font-size="8.3" fill="#111">Treatment</text>
<text x="405.1" y="507.1" text-anchor="middle" font-size="8.3" fill="#111">(week)</text>
<text x="479.13" y="497.1" text-anchor="middle" font-size="8.3" fill="#111">Follow-up</text>
<text x="479.13" y="507.1" text-anchor="middle" font-size="8.3" fill="#111">(month)</text>
<g transform="translate(0,0)">
<polyline points="374.3,436.8 435.2,428.5 447.38,421.4 459.56,418.5 471.74,419.1" fill="none" stroke="#1a1a1a" stroke-width="1.15"/>
<polyline points="374.3,436.8 435.2,402.6 447.38,407.5 459.56,400.7 471.74,402.6 483.92,400.7 496.1,403.4 508.28,398.9" fill="none" stroke="#1a1a1a" stroke-width="1.15"/>
<line x1="435.2" y1="413.6" x2="435.2" y2="444" stroke="#1a1a1a" stroke-width="1.25"/>
<line x1="432.2" y1="413.6" x2="438.2" y2="413.6" stroke="#1a1a1a" stroke-width="1.1"/>
<line x1="432.2" y1="444" x2="438.2" y2="444" stroke="#1a1a1a" stroke-width="1.1"/>
<line x1="447.38" y1="399.7" x2="447.38" y2="438.8" stroke="#1a1a1a" stroke-width="1.25"/>
<line x1="444.38" y1="399.7" x2="450.38" y2="399.7" stroke="#1a1a1a" stroke-width="1.1"/>
<line x1="444.38" y1="438.8" x2="450.38" y2="438.8" stroke="#1a1a1a" stroke-width="1.1"/>
<line x1="459.56" y1="398.6" x2="459.56" y2="438.4" stroke="#1a1a1a" stroke-width="1.25"/>
<line x1="456.56" y1="398.6" x2="462.56" y2="398.6" stroke="#1a1a1a" stroke-width="1.1"/>
<line x1="456.56" y1="438.4" x2="462.56" y2="438.4" stroke="#1a1a1a" stroke-width="1.1"/>
<line x1="471.74" y1="399.5" x2="471.74" y2="439.3" stroke="#1a1a1a" stroke-width="1.25"/>
<line x1="468.74" y1="399.5" x2="474.74" y2="399.5" stroke="#1a1a1a" stroke-width="1.1"/>
<line x1="468.74" y1="439.3" x2="474.74" y2="439.3" stroke="#1a1a1a" stroke-width="1.1"/>
<line x1="435.2" y1="391.4" x2="435.2" y2="413.6" stroke="#1a1a1a" stroke-width="1.25"/>
<line x1="432.2" y1="391.4" x2="438.2" y2="391.4" stroke="#1a1a1a" stroke-width="1.1"/>
<line x1="432.2" y1="413.6" x2="438.2" y2="413.6" stroke="#1a1a1a" stroke-width="1.1"/>
<line x1="447.38" y1="396.3" x2="447.38" y2="417.9" stroke="#1a1a1a" stroke-width="1.25"/>
<line x1="444.38" y1="396.3" x2="450.38" y2="396.3" stroke="#1a1a1a" stroke-width="1.1"/>
<line x1="444.38" y1="417.9" x2="450.38" y2="417.9" stroke="#1a1a1a" stroke-width="1.1"/>
<line x1="459.56" y1="389.5" x2="459.56" y2="412.3" stroke="#1a1a1a" stroke-width="1.25"/>
<line x1="456.56" y1="389.5" x2="462.56" y2="389.5" stroke="#1a1a1a" stroke-width="1.1"/>
<line x1="456.56" y1="412.3" x2="462.56" y2="412.3" stroke="#1a1a1a" stroke-width="1.1"/>
<line x1="471.74" y1="391.4" x2="471.74" y2="413.6" stroke="#1a1a1a" stroke-width="1.25"/>
<line x1="468.74" y1="391.4" x2="474.74" y2="391.4" stroke="#1a1a1a" stroke-width="1.1"/>
<line x1="468.74" y1="413.6" x2="474.74" y2="413.6" stroke="#1a1a1a" stroke-width="1.1"/>
<line x1="483.92" y1="388.9" x2="483.92" y2="412.3" stroke="#1a1a1a" stroke-width="1.25"/>
<line x1="480.92" y1="388.9" x2="486.92" y2="388.9" stroke="#1a1a1a" stroke-width="1.1"/>
<line x1="480.92" y1="412.3" x2="486.92" y2="412.3" stroke="#1a1a1a" stroke-width="1.1"/>
<line x1="496.1" y1="390.8" x2="496.1" y2="414.6" stroke="#1a1a1a" stroke-width="1.25"/>
<line x1="493.1" y1="390.8" x2="499.1" y2="390.8" stroke="#1a1a1a" stroke-width="1.1"/>
<line x1="493.1" y1="414.6" x2="499.1" y2="414.6" stroke="#1a1a1a" stroke-width="1.1"/>
<line x1="508.28" y1="386.9" x2="508.28" y2="411.2" stroke="#1a1a1a" stroke-width="1.25"/>
<line x1="505.28" y1="386.9" x2="511.28" y2="386.9" stroke="#1a1a1a" stroke-width="1.1"/>
<line x1="505.28" y1="411.2" x2="511.28" y2="411.2" stroke="#1a1a1a" stroke-width="1.1"/>
<circle cx="374.3" cy="436.8" r="3.0" fill="#1a4f82"/>
<circle cx="435.2" cy="428.5" r="3.0" fill="#1a4f82"/>
<circle cx="447.38" cy="421.4" r="3.0" fill="#1a4f82"/>
<circle cx="459.56" cy="418.5" r="3.0" fill="#1a4f82"/>
<circle cx="471.74" cy="419.1" r="3.0" fill="#1a4f82"/>
<circle cx="374.3" cy="436.8" r="3.0" fill="#c8102f"/>
<circle cx="435.2" cy="402.6" r="3.0" fill="#c8102f"/>
<circle cx="447.38" cy="407.5" r="3.0" fill="#c8102f"/>
<circle cx="459.56" cy="400.7" r="3.0" fill="#c8102f"/>
<circle cx="471.74" cy="402.6" r="3.0" fill="#c8102f"/>
<circle cx="483.92" cy="400.7" r="3.0" fill="#c8102f"/>
<circle cx="496.1" cy="403.4" r="3.0" fill="#c8102f"/>
<circle cx="508.28" cy="398.9" r="3.0" fill="#c8102f"/>
<circle cx="435.2" cy="387" r="1.7" fill="#f3c6d0" opacity="0.8"/>
<circle cx="435.2" cy="387" r="1.0" fill="#9a2a48"/>
<circle cx="447.38" cy="391.4" r="1.7" fill="#f3c6d0" opacity="0.8"/>
<circle cx="447.38" cy="391.4" r="1.0" fill="#9a2a48"/>
<circle cx="459.56" cy="384.7" r="1.7" fill="#f3c6d0" opacity="0.8"/>
<circle cx="459.56" cy="384.7" r="1.0" fill="#9a2a48"/>
<circle cx="471.74" cy="386.6" r="1.7" fill="#f3c6d0" opacity="0.8"/>
<circle cx="471.74" cy="386.6" r="1.0" fill="#9a2a48"/>
<circle cx="483.92" cy="384.3" r="1.7" fill="#f3c6d0" opacity="0.8"/>
<circle cx="483.92" cy="384.3" r="1.0" fill="#9a2a48"/>
<circle cx="496.1" cy="386.6" r="1.7" fill="#f3c6d0" opacity="0.8"/>
<circle cx="496.1" cy="386.6" r="1.0" fill="#9a2a48"/>
<circle cx="508.28" cy="381.8" r="1.7" fill="#f3c6d0" opacity="0.8"/>
<circle cx="508.28" cy="381.8" r="1.0" fill="#9a2a48"/>
</g>
<rect x="0.5" y="0.5" width="519" height="516" fill="none" stroke="#444" stroke-width="1"/>
</svg></div></body></html>
